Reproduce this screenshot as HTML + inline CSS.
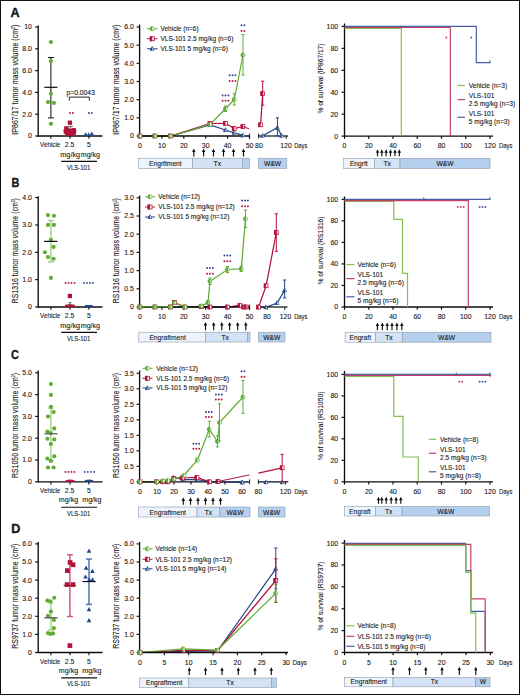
<!DOCTYPE html>
<html><head><meta charset="utf-8"><title>Figure</title>
<style>
html,body{margin:0;padding:0;background:#fff;}
body{width:520px;height:695px;overflow:hidden;}
svg{display:block;font-family:"Liberation Sans", sans-serif;}
text{stroke:#1a1a1a;stroke-width:0.1px;}
</style></head>
<body>
<svg width="520" height="695" viewBox="0 0 520 695">
<rect x="0" y="0" width="520" height="695" fill="#fff"/>
<rect x="138.4" y="158.2" width="53.9" height="10.2" fill="#eef4fb" stroke="#8e9cab" stroke-width="0.6"/>
<text x="165.35" y="165.9" font-size="6.7" text-anchor="middle" fill="#161616">Engrftment</text>
<rect x="192.3" y="158.2" width="50" height="10.2" fill="#d3e2f5" stroke="#8e9cab" stroke-width="0.6"/>
<text x="217.3" y="165.9" font-size="6.7" text-anchor="middle" fill="#161616">Tx</text>
<rect x="242.3" y="158.2" width="7.2" height="10.2" fill="#b5cfee" stroke="#8e9cab" stroke-width="0.6"/>
<rect x="258.5" y="158.2" width="28.3" height="10.2" fill="#b5cfee" stroke="#8e9cab" stroke-width="0.6"/>
<text x="272.65" y="165.9" font-size="6.7" text-anchor="middle" fill="#161616">W&amp;W</text>
<rect x="343.2" y="158.3" width="31.2" height="10.2" fill="#eef4fb" stroke="#8e9cab" stroke-width="0.6"/>
<text x="358.8" y="166" font-size="6.7" text-anchor="middle" fill="#161616">Engrft</text>
<rect x="374.4" y="158.3" width="25.6" height="10.2" fill="#d3e2f5" stroke="#8e9cab" stroke-width="0.6"/>
<text x="387.2" y="166" font-size="6.7" text-anchor="middle" fill="#161616">Tx</text>
<rect x="400" y="158.3" width="90" height="10.2" fill="#b5cfee" stroke="#8e9cab" stroke-width="0.6"/>
<text x="445" y="166" font-size="6.7" text-anchor="middle" fill="#161616">W&amp;W</text>
<rect x="138.8" y="332.2" width="66.8" height="9.8" fill="#eef4fb" stroke="#8e9cab" stroke-width="0.6"/>
<text x="167.6" y="339.5" font-size="6.7" text-anchor="middle" fill="#161616">Engraftment</text>
<rect x="205.6" y="332.2" width="41.9" height="9.8" fill="#d3e2f5" stroke="#8e9cab" stroke-width="0.6"/>
<text x="225.2" y="339.5" font-size="6.7" text-anchor="middle" fill="#161616">Tx</text>
<rect x="247.5" y="332.2" width="2.5" height="9.8" fill="#b5cfee" stroke="#8e9cab" stroke-width="0.6"/>
<rect x="258.5" y="332.2" width="26.5" height="9.8" fill="#b5cfee" stroke="#8e9cab" stroke-width="0.6"/>
<text x="271.75" y="339.5" font-size="6.7" text-anchor="middle" fill="#161616">W&amp;W</text>
<rect x="345.1" y="332.2" width="30.3" height="10" fill="#eef4fb" stroke="#8e9cab" stroke-width="0.6"/>
<text x="360.25" y="339.7" font-size="6.7" text-anchor="middle" fill="#161616">Engraft</text>
<rect x="375.4" y="332.2" width="26.9" height="10" fill="#d3e2f5" stroke="#8e9cab" stroke-width="0.6"/>
<text x="388.85" y="339.7" font-size="6.7" text-anchor="middle" fill="#161616">Tx</text>
<rect x="402.3" y="332.2" width="88.7" height="10" fill="#b5cfee" stroke="#8e9cab" stroke-width="0.6"/>
<text x="446.65" y="339.7" font-size="6.7" text-anchor="middle" fill="#161616">W&amp;W</text>
<rect x="138.5" y="507" width="58.5" height="10" fill="#eef4fb" stroke="#8e9cab" stroke-width="0.6"/>
<text x="167.75" y="514.5" font-size="6.7" text-anchor="middle" fill="#161616">Engraftment</text>
<rect x="197" y="507" width="23" height="10" fill="#d3e2f5" stroke="#8e9cab" stroke-width="0.6"/>
<text x="208.5" y="514.5" font-size="6.7" text-anchor="middle" fill="#161616">Tx</text>
<rect x="220" y="507" width="30" height="10" fill="#b5cfee" stroke="#8e9cab" stroke-width="0.6"/>
<text x="235" y="514.5" font-size="6.7" text-anchor="middle" fill="#161616">W&amp;W</text>
<rect x="258.3" y="507" width="26.7" height="10" fill="#b5cfee" stroke="#8e9cab" stroke-width="0.6"/>
<text x="271.65" y="514.5" font-size="6.7" text-anchor="middle" fill="#161616">W&amp;W</text>
<rect x="344.3" y="506.3" width="31.1" height="9.7" fill="#eef4fb" stroke="#8e9cab" stroke-width="0.6"/>
<text x="359.85" y="513.5" font-size="6.7" text-anchor="middle" fill="#161616">Engraft</text>
<rect x="375.5" y="506.3" width="26.5" height="9.7" fill="#d3e2f5" stroke="#8e9cab" stroke-width="0.6"/>
<text x="388.75" y="513.5" font-size="6.7" text-anchor="middle" fill="#161616">Tx</text>
<rect x="402" y="506.3" width="87.5" height="9.7" fill="#b5cfee" stroke="#8e9cab" stroke-width="0.6"/>
<text x="445.75" y="513.5" font-size="6.7" text-anchor="middle" fill="#161616">W&amp;W</text>
<rect x="139.5" y="678" width="49.3" height="9.5" fill="#eef4fb" stroke="#8e9cab" stroke-width="0.6"/>
<text x="164.15" y="685" font-size="6.7" text-anchor="middle" fill="#161616">Engraftment</text>
<rect x="188.8" y="678" width="82.5" height="9.5" fill="#d3e2f5" stroke="#8e9cab" stroke-width="0.6"/>
<text x="230.05" y="685" font-size="6.7" text-anchor="middle" fill="#161616">Tx</text>
<rect x="271.3" y="678" width="5" height="9.5" fill="#b5cfee" stroke="#8e9cab" stroke-width="0.6"/>
<rect x="344.5" y="677.5" width="48.5" height="9.3" fill="#eef4fb" stroke="#8e9cab" stroke-width="0.6"/>
<text x="368.75" y="684.3" font-size="6.7" text-anchor="middle" fill="#161616">Engraftment</text>
<rect x="393" y="677.5" width="82.8" height="9.3" fill="#d3e2f5" stroke="#8e9cab" stroke-width="0.6"/>
<text x="434.4" y="684.3" font-size="6.7" text-anchor="middle" fill="#161616">Tx</text>
<rect x="475.8" y="677.5" width="14.2" height="9.3" fill="#b5cfee" stroke="#8e9cab" stroke-width="0.6"/>
<text x="482.9" y="684.3" font-size="6.7" text-anchor="middle" fill="#161616">W</text>
<polyline points="140,136 155,136 170.5,136 210,125 225.5,130 234.25,132.8 243,135.4" fill="none" stroke="#23468a" stroke-width="1.25" stroke-linejoin="miter"/>
<polyline points="262.7,135.7 277.4,127.7 281.7,135.8" fill="none" stroke="#23468a" stroke-width="1.25" stroke-linejoin="miter"/>
<polyline points="140,136 155,136 170.5,136 210,123.5 225.5,123.3 234.25,128.5 243,126.5" fill="none" stroke="#b3123a" stroke-width="1.25" stroke-linejoin="miter"/>
<polyline points="260.6,124.8 262.7,93.6" fill="none" stroke="#b3123a" stroke-width="1.25" stroke-linejoin="miter"/>
<polyline points="140,136 155,136 170.5,136 210,124.5 225.5,108.75 234.25,99.5 243,55" fill="none" stroke="#60ad36" stroke-width="1.25" stroke-linejoin="miter"/>
<polyline points="140,307 155,307 170.5,307 185,307 201.3,307 210,307 227.5,307 240,306 246,307" fill="none" stroke="#23468a" stroke-width="1.25" stroke-linejoin="miter"/>
<polyline points="258.6,307 265.9,307.3 277.1,303 284.6,290.4" fill="none" stroke="#23468a" stroke-width="1.25" stroke-linejoin="miter"/>
<polyline points="140,307 155,307 170.5,307 174.5,302.5 185,307 201.3,306.5 210,307 227.5,307 240,305.5 243.7,307 246.3,307" fill="none" stroke="#b3123a" stroke-width="1.25" stroke-linejoin="miter"/>
<polyline points="258.6,307.1 266.1,285.8 276.3,232.5" fill="none" stroke="#b3123a" stroke-width="1.25" stroke-linejoin="miter"/>
<polyline points="140,307 155,307 170.5,307 174.5,302.8 185,307 201.3,306 208,302.5 210,281.3 227.5,269.5 241.3,268.8 245.5,218.8" fill="none" stroke="#60ad36" stroke-width="1.25" stroke-linejoin="miter"/>
<polyline points="140,481.8 156.8,481.8 163,481.8 168,481.8 173.5,477.5 183.5,479.5 197,479.5 209.5,481.8 218,481.8 242.2,482.3" fill="none" stroke="#23468a" stroke-width="1.25" stroke-linejoin="miter"/>
<polyline points="140,481.8 156.8,481.8 163,481.8 168,481.8 173.8,478.5 182.5,478 197,477.5 209.5,481.8 218,481.5" fill="none" stroke="#b3123a" stroke-width="1.25" stroke-linejoin="miter"/>
<polyline points="258.4,473.2 282.2,467.8" fill="none" stroke="#b3123a" stroke-width="1.25" stroke-linejoin="miter"/>
<polyline points="140,481.8 156.8,481.8 163,480.8 168,480.5 173.8,479.3 183.8,475.5 197.5,460 209.3,429.3 217.5,441.5 219.5,422.5 243,397" fill="none" stroke="#60ad36" stroke-width="1.25" stroke-linejoin="miter"/>
<polyline points="140,652.5 183.3,651.3 217.5,651 275.8,568.8" fill="none" stroke="#23468a" stroke-width="1.25" stroke-linejoin="miter"/>
<polyline points="140,652.5 183.3,650.3 217.5,650.5 275.8,580.5" fill="none" stroke="#b3123a" stroke-width="1.25" stroke-linejoin="miter"/>
<polyline points="140,652.5 183.3,648.8 217.5,650 275.8,593.3" fill="none" stroke="#60ad36" stroke-width="1.25" stroke-linejoin="miter"/>
<line x1="38.2" y1="25.5" x2="38.2" y2="136.5" stroke="#0d0d0d" stroke-width="1.35"/>
<line x1="35.2" y1="136" x2="38.2" y2="136" stroke="#0d0d0d" stroke-width="1.15"/>
<text x="31.9" y="138.46" font-size="6.9" text-anchor="end" fill="#161616">0</text>
<line x1="35.2" y1="114.2" x2="38.2" y2="114.2" stroke="#0d0d0d" stroke-width="1.15"/>
<text x="31.9" y="116.66" font-size="6.9" text-anchor="end" fill="#161616">2.0</text>
<line x1="35.2" y1="92.4" x2="38.2" y2="92.4" stroke="#0d0d0d" stroke-width="1.15"/>
<text x="31.9" y="94.86" font-size="6.9" text-anchor="end" fill="#161616">4.0</text>
<line x1="35.2" y1="70.6" x2="38.2" y2="70.6" stroke="#0d0d0d" stroke-width="1.15"/>
<text x="31.9" y="73.06" font-size="6.9" text-anchor="end" fill="#161616">6.0</text>
<line x1="35.2" y1="48.8" x2="38.2" y2="48.8" stroke="#0d0d0d" stroke-width="1.15"/>
<text x="31.9" y="51.26" font-size="6.9" text-anchor="end" fill="#161616">8.0</text>
<line x1="35.2" y1="27" x2="38.2" y2="27" stroke="#0d0d0d" stroke-width="1.15"/>
<text x="31.9" y="29.46" font-size="6.9" text-anchor="end" fill="#161616">10</text>
<line x1="37.6" y1="136" x2="102.5" y2="136" stroke="#0d0d0d" stroke-width="1.35"/>
<line x1="50.9" y1="136" x2="50.9" y2="138.8" stroke="#0d0d0d" stroke-width="1.1"/>
<line x1="70" y1="136" x2="70" y2="138.8" stroke="#0d0d0d" stroke-width="1.1"/>
<line x1="88.9" y1="136" x2="88.9" y2="138.8" stroke="#0d0d0d" stroke-width="1.1"/>
<line x1="139.6" y1="24.5" x2="139.6" y2="136.5" stroke="#0d0d0d" stroke-width="1.35"/>
<line x1="136.6" y1="136" x2="139.6" y2="136" stroke="#0d0d0d" stroke-width="1.15"/>
<text x="133.8" y="138.46" font-size="6.9" text-anchor="end" fill="#161616">0</text>
<line x1="136.6" y1="117.83" x2="139.6" y2="117.83" stroke="#0d0d0d" stroke-width="1.15"/>
<text x="133.8" y="120.29" font-size="6.9" text-anchor="end" fill="#161616">1.0</text>
<line x1="136.6" y1="99.66" x2="139.6" y2="99.66" stroke="#0d0d0d" stroke-width="1.15"/>
<text x="133.8" y="102.12" font-size="6.9" text-anchor="end" fill="#161616">2.0</text>
<line x1="136.6" y1="81.49" x2="139.6" y2="81.49" stroke="#0d0d0d" stroke-width="1.15"/>
<text x="133.8" y="83.95" font-size="6.9" text-anchor="end" fill="#161616">3.0</text>
<line x1="136.6" y1="63.32" x2="139.6" y2="63.32" stroke="#0d0d0d" stroke-width="1.15"/>
<text x="133.8" y="65.78" font-size="6.9" text-anchor="end" fill="#161616">4.0</text>
<line x1="136.6" y1="45.15" x2="139.6" y2="45.15" stroke="#0d0d0d" stroke-width="1.15"/>
<text x="133.8" y="47.61" font-size="6.9" text-anchor="end" fill="#161616">5.0</text>
<line x1="136.6" y1="26.98" x2="139.6" y2="26.98" stroke="#0d0d0d" stroke-width="1.15"/>
<text x="133.8" y="29.44" font-size="6.9" text-anchor="end" fill="#161616">6.0</text>
<line x1="139" y1="136" x2="249.6" y2="136" stroke="#0d0d0d" stroke-width="1.35"/>
<line x1="140" y1="136" x2="140" y2="138.8" stroke="#0d0d0d" stroke-width="1.15"/>
<text x="140" y="148.3" font-size="6.9" text-anchor="middle" fill="#161616">0</text>
<line x1="161.9" y1="136" x2="161.9" y2="138.8" stroke="#0d0d0d" stroke-width="1.15"/>
<text x="161.9" y="148.3" font-size="6.9" text-anchor="middle" fill="#161616">10</text>
<line x1="183.8" y1="136" x2="183.8" y2="138.8" stroke="#0d0d0d" stroke-width="1.15"/>
<text x="183.8" y="148.3" font-size="6.9" text-anchor="middle" fill="#161616">20</text>
<line x1="205.7" y1="136" x2="205.7" y2="138.8" stroke="#0d0d0d" stroke-width="1.15"/>
<text x="205.7" y="148.3" font-size="6.9" text-anchor="middle" fill="#161616">30</text>
<line x1="227.6" y1="136" x2="227.6" y2="138.8" stroke="#0d0d0d" stroke-width="1.15"/>
<text x="227.6" y="148.3" font-size="6.9" text-anchor="middle" fill="#161616">40</text>
<line x1="249.5" y1="136" x2="249.5" y2="138.8" stroke="#0d0d0d" stroke-width="1.15"/>
<text x="249.5" y="148.3" font-size="6.9" text-anchor="middle" fill="#161616">50</text>
<line x1="344.5" y1="23.5" x2="344.5" y2="136.6" stroke="#0d0d0d" stroke-width="1.35"/>
<line x1="341.5" y1="136.1" x2="344.5" y2="136.1" stroke="#0d0d0d" stroke-width="1.15"/>
<text x="338.1" y="138.56" font-size="6.9" text-anchor="end" fill="#161616">0</text>
<line x1="341.5" y1="114.16" x2="344.5" y2="114.16" stroke="#0d0d0d" stroke-width="1.15"/>
<text x="338.1" y="116.62" font-size="6.9" text-anchor="end" fill="#161616">20</text>
<line x1="341.5" y1="92.22" x2="344.5" y2="92.22" stroke="#0d0d0d" stroke-width="1.15"/>
<text x="338.1" y="94.68" font-size="6.9" text-anchor="end" fill="#161616">40</text>
<line x1="341.5" y1="70.28" x2="344.5" y2="70.28" stroke="#0d0d0d" stroke-width="1.15"/>
<text x="338.1" y="72.74" font-size="6.9" text-anchor="end" fill="#161616">60</text>
<line x1="341.5" y1="48.34" x2="344.5" y2="48.34" stroke="#0d0d0d" stroke-width="1.15"/>
<text x="338.1" y="50.8" font-size="6.9" text-anchor="end" fill="#161616">80</text>
<line x1="341.5" y1="26.4" x2="344.5" y2="26.4" stroke="#0d0d0d" stroke-width="1.15"/>
<text x="338.1" y="28.86" font-size="6.9" text-anchor="end" fill="#161616">100</text>
<line x1="343.9" y1="136.1" x2="493" y2="136.1" stroke="#0d0d0d" stroke-width="1.35"/>
<line x1="344.5" y1="136.1" x2="344.5" y2="138.9" stroke="#0d0d0d" stroke-width="1.15"/>
<text x="344.5" y="147.6" font-size="6.9" text-anchor="middle" fill="#161616">0</text>
<line x1="368.75" y1="136.1" x2="368.75" y2="138.9" stroke="#0d0d0d" stroke-width="1.15"/>
<text x="368.75" y="147.6" font-size="6.9" text-anchor="middle" fill="#161616">20</text>
<line x1="393" y1="136.1" x2="393" y2="138.9" stroke="#0d0d0d" stroke-width="1.15"/>
<text x="393" y="147.6" font-size="6.9" text-anchor="middle" fill="#161616">40</text>
<line x1="417.25" y1="136.1" x2="417.25" y2="138.9" stroke="#0d0d0d" stroke-width="1.15"/>
<text x="417.25" y="147.6" font-size="6.9" text-anchor="middle" fill="#161616">60</text>
<line x1="441.5" y1="136.1" x2="441.5" y2="138.9" stroke="#0d0d0d" stroke-width="1.15"/>
<text x="441.5" y="147.6" font-size="6.9" text-anchor="middle" fill="#161616">80</text>
<line x1="465.75" y1="136.1" x2="465.75" y2="138.9" stroke="#0d0d0d" stroke-width="1.15"/>
<text x="465.75" y="147.6" font-size="6.9" text-anchor="middle" fill="#161616">100</text>
<line x1="490" y1="136.1" x2="490" y2="138.9" stroke="#0d0d0d" stroke-width="1.15"/>
<text x="490" y="147.6" font-size="6.9" text-anchor="middle" fill="#161616">120</text>
<line x1="38.2" y1="196.3" x2="38.2" y2="307.5" stroke="#0d0d0d" stroke-width="1.35"/>
<line x1="35.2" y1="307" x2="38.2" y2="307" stroke="#0d0d0d" stroke-width="1.15"/>
<text x="31.9" y="309.46" font-size="6.9" text-anchor="end" fill="#161616">0</text>
<line x1="35.2" y1="279.65" x2="38.2" y2="279.65" stroke="#0d0d0d" stroke-width="1.15"/>
<text x="31.9" y="282.11" font-size="6.9" text-anchor="end" fill="#161616">1.0</text>
<line x1="35.2" y1="252.3" x2="38.2" y2="252.3" stroke="#0d0d0d" stroke-width="1.15"/>
<text x="31.9" y="254.76" font-size="6.9" text-anchor="end" fill="#161616">2.0</text>
<line x1="35.2" y1="224.95" x2="38.2" y2="224.95" stroke="#0d0d0d" stroke-width="1.15"/>
<text x="31.9" y="227.41" font-size="6.9" text-anchor="end" fill="#161616">3.0</text>
<line x1="35.2" y1="197.6" x2="38.2" y2="197.6" stroke="#0d0d0d" stroke-width="1.15"/>
<text x="31.9" y="200.06" font-size="6.9" text-anchor="end" fill="#161616">4.0</text>
<line x1="37.6" y1="307" x2="102.5" y2="307" stroke="#0d0d0d" stroke-width="1.35"/>
<line x1="50.9" y1="307" x2="50.9" y2="309.8" stroke="#0d0d0d" stroke-width="1.1"/>
<line x1="70" y1="307" x2="70" y2="309.8" stroke="#0d0d0d" stroke-width="1.1"/>
<line x1="88.9" y1="307" x2="88.9" y2="309.8" stroke="#0d0d0d" stroke-width="1.1"/>
<line x1="139.6" y1="195.5" x2="139.6" y2="307.5" stroke="#0d0d0d" stroke-width="1.35"/>
<line x1="136.6" y1="307" x2="139.6" y2="307" stroke="#0d0d0d" stroke-width="1.15"/>
<text x="133.8" y="309.46" font-size="6.9" text-anchor="end" fill="#161616">0</text>
<line x1="136.6" y1="288.8" x2="139.6" y2="288.8" stroke="#0d0d0d" stroke-width="1.15"/>
<text x="133.8" y="291.26" font-size="6.9" text-anchor="end" fill="#161616">0.5</text>
<line x1="136.6" y1="270.6" x2="139.6" y2="270.6" stroke="#0d0d0d" stroke-width="1.15"/>
<text x="133.8" y="273.06" font-size="6.9" text-anchor="end" fill="#161616">1.0</text>
<line x1="136.6" y1="252.4" x2="139.6" y2="252.4" stroke="#0d0d0d" stroke-width="1.15"/>
<text x="133.8" y="254.86" font-size="6.9" text-anchor="end" fill="#161616">1.5</text>
<line x1="136.6" y1="234.2" x2="139.6" y2="234.2" stroke="#0d0d0d" stroke-width="1.15"/>
<text x="133.8" y="236.66" font-size="6.9" text-anchor="end" fill="#161616">2.0</text>
<line x1="136.6" y1="216" x2="139.6" y2="216" stroke="#0d0d0d" stroke-width="1.15"/>
<text x="133.8" y="218.46" font-size="6.9" text-anchor="end" fill="#161616">2.5</text>
<line x1="136.6" y1="197.8" x2="139.6" y2="197.8" stroke="#0d0d0d" stroke-width="1.15"/>
<text x="133.8" y="200.26" font-size="6.9" text-anchor="end" fill="#161616">3.0</text>
<line x1="139" y1="307" x2="249.6" y2="307" stroke="#0d0d0d" stroke-width="1.35"/>
<line x1="140" y1="307" x2="140" y2="309.8" stroke="#0d0d0d" stroke-width="1.15"/>
<text x="140" y="319.3" font-size="6.9" text-anchor="middle" fill="#161616">0</text>
<line x1="161.9" y1="307" x2="161.9" y2="309.8" stroke="#0d0d0d" stroke-width="1.15"/>
<text x="161.9" y="319.3" font-size="6.9" text-anchor="middle" fill="#161616">10</text>
<line x1="183.8" y1="307" x2="183.8" y2="309.8" stroke="#0d0d0d" stroke-width="1.15"/>
<text x="183.8" y="319.3" font-size="6.9" text-anchor="middle" fill="#161616">20</text>
<line x1="205.7" y1="307" x2="205.7" y2="309.8" stroke="#0d0d0d" stroke-width="1.15"/>
<text x="205.7" y="319.3" font-size="6.9" text-anchor="middle" fill="#161616">30</text>
<line x1="227.6" y1="307" x2="227.6" y2="309.8" stroke="#0d0d0d" stroke-width="1.15"/>
<text x="227.6" y="319.3" font-size="6.9" text-anchor="middle" fill="#161616">40</text>
<line x1="249.5" y1="307" x2="249.5" y2="309.8" stroke="#0d0d0d" stroke-width="1.15"/>
<text x="249.5" y="319.3" font-size="6.9" text-anchor="middle" fill="#161616">50</text>
<line x1="344.5" y1="196.5" x2="344.5" y2="307.5" stroke="#0d0d0d" stroke-width="1.35"/>
<line x1="341.5" y1="307" x2="344.5" y2="307" stroke="#0d0d0d" stroke-width="1.15"/>
<text x="338.1" y="309.46" font-size="6.9" text-anchor="end" fill="#161616">0</text>
<line x1="341.5" y1="285.46" x2="344.5" y2="285.46" stroke="#0d0d0d" stroke-width="1.15"/>
<text x="338.1" y="287.92" font-size="6.9" text-anchor="end" fill="#161616">20</text>
<line x1="341.5" y1="263.92" x2="344.5" y2="263.92" stroke="#0d0d0d" stroke-width="1.15"/>
<text x="338.1" y="266.38" font-size="6.9" text-anchor="end" fill="#161616">40</text>
<line x1="341.5" y1="242.38" x2="344.5" y2="242.38" stroke="#0d0d0d" stroke-width="1.15"/>
<text x="338.1" y="244.84" font-size="6.9" text-anchor="end" fill="#161616">60</text>
<line x1="341.5" y1="220.84" x2="344.5" y2="220.84" stroke="#0d0d0d" stroke-width="1.15"/>
<text x="338.1" y="223.3" font-size="6.9" text-anchor="end" fill="#161616">80</text>
<line x1="341.5" y1="199.3" x2="344.5" y2="199.3" stroke="#0d0d0d" stroke-width="1.15"/>
<text x="338.1" y="201.76" font-size="6.9" text-anchor="end" fill="#161616">100</text>
<line x1="343.9" y1="307" x2="493" y2="307" stroke="#0d0d0d" stroke-width="1.35"/>
<line x1="344.5" y1="307" x2="344.5" y2="309.8" stroke="#0d0d0d" stroke-width="1.15"/>
<text x="344.5" y="319" font-size="6.9" text-anchor="middle" fill="#161616">0</text>
<line x1="368.75" y1="307" x2="368.75" y2="309.8" stroke="#0d0d0d" stroke-width="1.15"/>
<text x="368.75" y="319" font-size="6.9" text-anchor="middle" fill="#161616">20</text>
<line x1="393" y1="307" x2="393" y2="309.8" stroke="#0d0d0d" stroke-width="1.15"/>
<text x="393" y="319" font-size="6.9" text-anchor="middle" fill="#161616">40</text>
<line x1="417.25" y1="307" x2="417.25" y2="309.8" stroke="#0d0d0d" stroke-width="1.15"/>
<text x="417.25" y="319" font-size="6.9" text-anchor="middle" fill="#161616">60</text>
<line x1="441.5" y1="307" x2="441.5" y2="309.8" stroke="#0d0d0d" stroke-width="1.15"/>
<text x="441.5" y="319" font-size="6.9" text-anchor="middle" fill="#161616">80</text>
<line x1="465.75" y1="307" x2="465.75" y2="309.8" stroke="#0d0d0d" stroke-width="1.15"/>
<text x="465.75" y="319" font-size="6.9" text-anchor="middle" fill="#161616">100</text>
<line x1="490" y1="307" x2="490" y2="309.8" stroke="#0d0d0d" stroke-width="1.15"/>
<text x="490" y="319" font-size="6.9" text-anchor="middle" fill="#161616">120</text>
<line x1="38.2" y1="370.5" x2="38.2" y2="482.3" stroke="#0d0d0d" stroke-width="1.35"/>
<line x1="35.2" y1="481.8" x2="38.2" y2="481.8" stroke="#0d0d0d" stroke-width="1.15"/>
<text x="31.9" y="484.26" font-size="6.9" text-anchor="end" fill="#161616">0</text>
<line x1="35.2" y1="460" x2="38.2" y2="460" stroke="#0d0d0d" stroke-width="1.15"/>
<text x="31.9" y="462.46" font-size="6.9" text-anchor="end" fill="#161616">1.0</text>
<line x1="35.2" y1="438.2" x2="38.2" y2="438.2" stroke="#0d0d0d" stroke-width="1.15"/>
<text x="31.9" y="440.66" font-size="6.9" text-anchor="end" fill="#161616">2.0</text>
<line x1="35.2" y1="416.4" x2="38.2" y2="416.4" stroke="#0d0d0d" stroke-width="1.15"/>
<text x="31.9" y="418.86" font-size="6.9" text-anchor="end" fill="#161616">3.0</text>
<line x1="35.2" y1="394.6" x2="38.2" y2="394.6" stroke="#0d0d0d" stroke-width="1.15"/>
<text x="31.9" y="397.06" font-size="6.9" text-anchor="end" fill="#161616">4.0</text>
<line x1="35.2" y1="372.8" x2="38.2" y2="372.8" stroke="#0d0d0d" stroke-width="1.15"/>
<text x="31.9" y="375.26" font-size="6.9" text-anchor="end" fill="#161616">5.0</text>
<line x1="37.6" y1="481.8" x2="102.5" y2="481.8" stroke="#0d0d0d" stroke-width="1.35"/>
<line x1="50.9" y1="481.8" x2="50.9" y2="484.6" stroke="#0d0d0d" stroke-width="1.1"/>
<line x1="70" y1="481.8" x2="70" y2="484.6" stroke="#0d0d0d" stroke-width="1.1"/>
<line x1="88.9" y1="481.8" x2="88.9" y2="484.6" stroke="#0d0d0d" stroke-width="1.1"/>
<line x1="139.6" y1="370.5" x2="139.6" y2="482.3" stroke="#0d0d0d" stroke-width="1.35"/>
<line x1="136.6" y1="481.8" x2="139.6" y2="481.8" stroke="#0d0d0d" stroke-width="1.15"/>
<text x="133.8" y="484.26" font-size="6.9" text-anchor="end" fill="#161616">0</text>
<line x1="136.6" y1="466.3" x2="139.6" y2="466.3" stroke="#0d0d0d" stroke-width="1.15"/>
<text x="133.8" y="468.76" font-size="6.9" text-anchor="end" fill="#161616">0.5</text>
<line x1="136.6" y1="450.8" x2="139.6" y2="450.8" stroke="#0d0d0d" stroke-width="1.15"/>
<text x="133.8" y="453.26" font-size="6.9" text-anchor="end" fill="#161616">1.0</text>
<line x1="136.6" y1="435.3" x2="139.6" y2="435.3" stroke="#0d0d0d" stroke-width="1.15"/>
<text x="133.8" y="437.76" font-size="6.9" text-anchor="end" fill="#161616">1.5</text>
<line x1="136.6" y1="419.8" x2="139.6" y2="419.8" stroke="#0d0d0d" stroke-width="1.15"/>
<text x="133.8" y="422.26" font-size="6.9" text-anchor="end" fill="#161616">2.0</text>
<line x1="136.6" y1="404.3" x2="139.6" y2="404.3" stroke="#0d0d0d" stroke-width="1.15"/>
<text x="133.8" y="406.76" font-size="6.9" text-anchor="end" fill="#161616">2.5</text>
<line x1="136.6" y1="388.8" x2="139.6" y2="388.8" stroke="#0d0d0d" stroke-width="1.15"/>
<text x="133.8" y="391.26" font-size="6.9" text-anchor="end" fill="#161616">3.0</text>
<line x1="136.6" y1="373.3" x2="139.6" y2="373.3" stroke="#0d0d0d" stroke-width="1.15"/>
<text x="133.8" y="375.76" font-size="6.9" text-anchor="end" fill="#161616">3.5</text>
<line x1="139" y1="481.8" x2="249.6" y2="481.8" stroke="#0d0d0d" stroke-width="1.35"/>
<line x1="140" y1="481.8" x2="140" y2="484.6" stroke="#0d0d0d" stroke-width="1.15"/>
<text x="140" y="494.1" font-size="6.9" text-anchor="middle" fill="#161616">0</text>
<line x1="157" y1="481.8" x2="157" y2="484.6" stroke="#0d0d0d" stroke-width="1.15"/>
<text x="157" y="494.1" font-size="6.9" text-anchor="middle" fill="#161616">10</text>
<line x1="174" y1="481.8" x2="174" y2="484.6" stroke="#0d0d0d" stroke-width="1.15"/>
<text x="174" y="494.1" font-size="6.9" text-anchor="middle" fill="#161616">20</text>
<line x1="191" y1="481.8" x2="191" y2="484.6" stroke="#0d0d0d" stroke-width="1.15"/>
<text x="191" y="494.1" font-size="6.9" text-anchor="middle" fill="#161616">30</text>
<line x1="208" y1="481.8" x2="208" y2="484.6" stroke="#0d0d0d" stroke-width="1.15"/>
<text x="208" y="494.1" font-size="6.9" text-anchor="middle" fill="#161616">40</text>
<line x1="225" y1="481.8" x2="225" y2="484.6" stroke="#0d0d0d" stroke-width="1.15"/>
<text x="225" y="494.1" font-size="6.9" text-anchor="middle" fill="#161616">50</text>
<line x1="242" y1="481.8" x2="242" y2="484.6" stroke="#0d0d0d" stroke-width="1.15"/>
<text x="242" y="494.1" font-size="6.9" text-anchor="middle" fill="#161616">60</text>
<line x1="344.5" y1="371" x2="344.5" y2="482.3" stroke="#0d0d0d" stroke-width="1.35"/>
<line x1="341.5" y1="481.8" x2="344.5" y2="481.8" stroke="#0d0d0d" stroke-width="1.15"/>
<text x="338.1" y="484.26" font-size="6.9" text-anchor="end" fill="#161616">0</text>
<line x1="341.5" y1="460.32" x2="344.5" y2="460.32" stroke="#0d0d0d" stroke-width="1.15"/>
<text x="338.1" y="462.78" font-size="6.9" text-anchor="end" fill="#161616">20</text>
<line x1="341.5" y1="438.84" x2="344.5" y2="438.84" stroke="#0d0d0d" stroke-width="1.15"/>
<text x="338.1" y="441.3" font-size="6.9" text-anchor="end" fill="#161616">40</text>
<line x1="341.5" y1="417.36" x2="344.5" y2="417.36" stroke="#0d0d0d" stroke-width="1.15"/>
<text x="338.1" y="419.82" font-size="6.9" text-anchor="end" fill="#161616">60</text>
<line x1="341.5" y1="395.88" x2="344.5" y2="395.88" stroke="#0d0d0d" stroke-width="1.15"/>
<text x="338.1" y="398.34" font-size="6.9" text-anchor="end" fill="#161616">80</text>
<line x1="341.5" y1="374.4" x2="344.5" y2="374.4" stroke="#0d0d0d" stroke-width="1.15"/>
<text x="338.1" y="376.86" font-size="6.9" text-anchor="end" fill="#161616">100</text>
<line x1="343.9" y1="481.8" x2="493" y2="481.8" stroke="#0d0d0d" stroke-width="1.35"/>
<line x1="344.5" y1="481.8" x2="344.5" y2="484.6" stroke="#0d0d0d" stroke-width="1.15"/>
<text x="344.5" y="493.8" font-size="6.9" text-anchor="middle" fill="#161616">0</text>
<line x1="368.75" y1="481.8" x2="368.75" y2="484.6" stroke="#0d0d0d" stroke-width="1.15"/>
<text x="368.75" y="493.8" font-size="6.9" text-anchor="middle" fill="#161616">20</text>
<line x1="393" y1="481.8" x2="393" y2="484.6" stroke="#0d0d0d" stroke-width="1.15"/>
<text x="393" y="493.8" font-size="6.9" text-anchor="middle" fill="#161616">40</text>
<line x1="417.25" y1="481.8" x2="417.25" y2="484.6" stroke="#0d0d0d" stroke-width="1.15"/>
<text x="417.25" y="493.8" font-size="6.9" text-anchor="middle" fill="#161616">60</text>
<line x1="441.5" y1="481.8" x2="441.5" y2="484.6" stroke="#0d0d0d" stroke-width="1.15"/>
<text x="441.5" y="493.8" font-size="6.9" text-anchor="middle" fill="#161616">80</text>
<line x1="465.75" y1="481.8" x2="465.75" y2="484.6" stroke="#0d0d0d" stroke-width="1.15"/>
<text x="465.75" y="493.8" font-size="6.9" text-anchor="middle" fill="#161616">100</text>
<line x1="490" y1="481.8" x2="490" y2="484.6" stroke="#0d0d0d" stroke-width="1.15"/>
<text x="490" y="493.8" font-size="6.9" text-anchor="middle" fill="#161616">120</text>
<line x1="38.2" y1="542" x2="38.2" y2="653" stroke="#0d0d0d" stroke-width="1.35"/>
<line x1="35.2" y1="652.5" x2="38.2" y2="652.5" stroke="#0d0d0d" stroke-width="1.15"/>
<text x="31.9" y="654.96" font-size="6.9" text-anchor="end" fill="#161616">0</text>
<line x1="35.2" y1="634.4" x2="38.2" y2="634.4" stroke="#0d0d0d" stroke-width="1.15"/>
<text x="31.9" y="636.86" font-size="6.9" text-anchor="end" fill="#161616">1.0</text>
<line x1="35.2" y1="616.3" x2="38.2" y2="616.3" stroke="#0d0d0d" stroke-width="1.15"/>
<text x="31.9" y="618.76" font-size="6.9" text-anchor="end" fill="#161616">2.0</text>
<line x1="35.2" y1="598.2" x2="38.2" y2="598.2" stroke="#0d0d0d" stroke-width="1.15"/>
<text x="31.9" y="600.66" font-size="6.9" text-anchor="end" fill="#161616">3.0</text>
<line x1="35.2" y1="580.1" x2="38.2" y2="580.1" stroke="#0d0d0d" stroke-width="1.15"/>
<text x="31.9" y="582.56" font-size="6.9" text-anchor="end" fill="#161616">4.0</text>
<line x1="35.2" y1="562" x2="38.2" y2="562" stroke="#0d0d0d" stroke-width="1.15"/>
<text x="31.9" y="564.46" font-size="6.9" text-anchor="end" fill="#161616">5.0</text>
<line x1="35.2" y1="543.9" x2="38.2" y2="543.9" stroke="#0d0d0d" stroke-width="1.15"/>
<text x="31.9" y="546.36" font-size="6.9" text-anchor="end" fill="#161616">6.0</text>
<line x1="37.6" y1="652.5" x2="102.5" y2="652.5" stroke="#0d0d0d" stroke-width="1.35"/>
<line x1="50.9" y1="652.5" x2="50.9" y2="655.3" stroke="#0d0d0d" stroke-width="1.1"/>
<line x1="70" y1="652.5" x2="70" y2="655.3" stroke="#0d0d0d" stroke-width="1.1"/>
<line x1="88.9" y1="652.5" x2="88.9" y2="655.3" stroke="#0d0d0d" stroke-width="1.1"/>
<line x1="139.6" y1="542" x2="139.6" y2="653" stroke="#0d0d0d" stroke-width="1.35"/>
<line x1="136.6" y1="652.5" x2="139.6" y2="652.5" stroke="#0d0d0d" stroke-width="1.15"/>
<text x="133.8" y="654.96" font-size="6.9" text-anchor="end" fill="#161616">0</text>
<line x1="136.6" y1="634.4" x2="139.6" y2="634.4" stroke="#0d0d0d" stroke-width="1.15"/>
<text x="133.8" y="636.86" font-size="6.9" text-anchor="end" fill="#161616">1.0</text>
<line x1="136.6" y1="616.3" x2="139.6" y2="616.3" stroke="#0d0d0d" stroke-width="1.15"/>
<text x="133.8" y="618.76" font-size="6.9" text-anchor="end" fill="#161616">2.0</text>
<line x1="136.6" y1="598.2" x2="139.6" y2="598.2" stroke="#0d0d0d" stroke-width="1.15"/>
<text x="133.8" y="600.66" font-size="6.9" text-anchor="end" fill="#161616">3.0</text>
<line x1="136.6" y1="580.1" x2="139.6" y2="580.1" stroke="#0d0d0d" stroke-width="1.15"/>
<text x="133.8" y="582.56" font-size="6.9" text-anchor="end" fill="#161616">4.0</text>
<line x1="136.6" y1="562" x2="139.6" y2="562" stroke="#0d0d0d" stroke-width="1.15"/>
<text x="133.8" y="564.46" font-size="6.9" text-anchor="end" fill="#161616">5.0</text>
<line x1="136.6" y1="543.9" x2="139.6" y2="543.9" stroke="#0d0d0d" stroke-width="1.15"/>
<text x="133.8" y="546.36" font-size="6.9" text-anchor="end" fill="#161616">6.0</text>
<line x1="139" y1="652.5" x2="288" y2="652.5" stroke="#0d0d0d" stroke-width="1.35"/>
<line x1="140" y1="652.5" x2="140" y2="655.3" stroke="#0d0d0d" stroke-width="1.15"/>
<text x="140" y="664.8" font-size="6.9" text-anchor="middle" fill="#161616">0</text>
<line x1="164.35" y1="652.5" x2="164.35" y2="655.3" stroke="#0d0d0d" stroke-width="1.15"/>
<text x="164.35" y="664.8" font-size="6.9" text-anchor="middle" fill="#161616">5</text>
<line x1="188.7" y1="652.5" x2="188.7" y2="655.3" stroke="#0d0d0d" stroke-width="1.15"/>
<text x="188.7" y="664.8" font-size="6.9" text-anchor="middle" fill="#161616">10</text>
<line x1="213.05" y1="652.5" x2="213.05" y2="655.3" stroke="#0d0d0d" stroke-width="1.15"/>
<text x="213.05" y="664.8" font-size="6.9" text-anchor="middle" fill="#161616">15</text>
<line x1="237.4" y1="652.5" x2="237.4" y2="655.3" stroke="#0d0d0d" stroke-width="1.15"/>
<text x="237.4" y="664.8" font-size="6.9" text-anchor="middle" fill="#161616">20</text>
<line x1="261.75" y1="652.5" x2="261.75" y2="655.3" stroke="#0d0d0d" stroke-width="1.15"/>
<text x="261.75" y="664.8" font-size="6.9" text-anchor="middle" fill="#161616">25</text>
<line x1="286.1" y1="652.5" x2="286.1" y2="655.3" stroke="#0d0d0d" stroke-width="1.15"/>
<text x="286.1" y="664.8" font-size="6.9" text-anchor="middle" fill="#161616">30</text>
<line x1="344.5" y1="540" x2="344.5" y2="653" stroke="#0d0d0d" stroke-width="1.35"/>
<line x1="341.5" y1="652.5" x2="344.5" y2="652.5" stroke="#0d0d0d" stroke-width="1.15"/>
<text x="338.1" y="654.96" font-size="6.9" text-anchor="end" fill="#161616">0</text>
<line x1="341.5" y1="630.62" x2="344.5" y2="630.62" stroke="#0d0d0d" stroke-width="1.15"/>
<text x="338.1" y="633.08" font-size="6.9" text-anchor="end" fill="#161616">20</text>
<line x1="341.5" y1="608.74" x2="344.5" y2="608.74" stroke="#0d0d0d" stroke-width="1.15"/>
<text x="338.1" y="611.2" font-size="6.9" text-anchor="end" fill="#161616">40</text>
<line x1="341.5" y1="586.86" x2="344.5" y2="586.86" stroke="#0d0d0d" stroke-width="1.15"/>
<text x="338.1" y="589.32" font-size="6.9" text-anchor="end" fill="#161616">60</text>
<line x1="341.5" y1="564.98" x2="344.5" y2="564.98" stroke="#0d0d0d" stroke-width="1.15"/>
<text x="338.1" y="567.44" font-size="6.9" text-anchor="end" fill="#161616">80</text>
<line x1="341.5" y1="543.1" x2="344.5" y2="543.1" stroke="#0d0d0d" stroke-width="1.15"/>
<text x="338.1" y="545.56" font-size="6.9" text-anchor="end" fill="#161616">100</text>
<line x1="343.9" y1="652.5" x2="493" y2="652.5" stroke="#0d0d0d" stroke-width="1.35"/>
<line x1="344.5" y1="652.5" x2="344.5" y2="655.3" stroke="#0d0d0d" stroke-width="1.15"/>
<text x="344.5" y="664.5" font-size="6.9" text-anchor="middle" fill="#161616">0</text>
<line x1="368.8" y1="652.5" x2="368.8" y2="655.3" stroke="#0d0d0d" stroke-width="1.15"/>
<text x="368.8" y="664.5" font-size="6.9" text-anchor="middle" fill="#161616">5</text>
<line x1="393.1" y1="652.5" x2="393.1" y2="655.3" stroke="#0d0d0d" stroke-width="1.15"/>
<text x="393.1" y="664.5" font-size="6.9" text-anchor="middle" fill="#161616">10</text>
<line x1="417.4" y1="652.5" x2="417.4" y2="655.3" stroke="#0d0d0d" stroke-width="1.15"/>
<text x="417.4" y="664.5" font-size="6.9" text-anchor="middle" fill="#161616">15</text>
<line x1="441.7" y1="652.5" x2="441.7" y2="655.3" stroke="#0d0d0d" stroke-width="1.15"/>
<text x="441.7" y="664.5" font-size="6.9" text-anchor="middle" fill="#161616">20</text>
<line x1="466" y1="652.5" x2="466" y2="655.3" stroke="#0d0d0d" stroke-width="1.15"/>
<text x="466" y="664.5" font-size="6.9" text-anchor="middle" fill="#161616">25</text>
<line x1="490.3" y1="652.5" x2="490.3" y2="655.3" stroke="#0d0d0d" stroke-width="1.15"/>
<text x="490.3" y="664.5" font-size="6.9" text-anchor="middle" fill="#161616">30</text>
<text x="10.4" y="16.9" font-size="12.6" font-weight="bold" fill="#161616" style="stroke-width:0.35px">A</text>
<text x="50.2" y="147.2" font-size="6.7" text-anchor="middle" textLength="20.3" lengthAdjust="spacingAndGlyphs" fill="#161616">Vehicle</text>
<text x="69.5" y="147.2" font-size="6.9" text-anchor="middle" fill="#161616">2.5</text>
<text x="89" y="147.2" font-size="6.9" text-anchor="middle" fill="#161616">5</text>
<text x="70.2" y="156.5" font-size="6.7" text-anchor="middle" textLength="19.7" lengthAdjust="spacingAndGlyphs" fill="#161616">mg/kg</text>
<text x="90.4" y="156.5" font-size="6.7" text-anchor="middle" textLength="19.3" lengthAdjust="spacingAndGlyphs" fill="#161616">mg/kg</text>
<line x1="61.2" y1="161.4" x2="97" y2="161.4" stroke="#0d0d0d" stroke-width="1.1"/>
<text x="78.6" y="169.7" font-size="6.7" text-anchor="middle" textLength="23.4" lengthAdjust="spacingAndGlyphs" fill="#161616">VLS-101</text>
<text x="0" y="0" font-size="9.6" text-anchor="middle" textLength="110" lengthAdjust="spacingAndGlyphs" fill="#161616" transform="translate(17.6 79.7) rotate(-90)">IP867/17 tumor mass volume (cm<tspan font-size="4.5" dy="-2.5">3</tspan><tspan dy="2.5">)</tspan></text>
<line x1="50.9" y1="57.5" x2="50.9" y2="117.9" stroke="#0d0d0d" stroke-width="1"/>
<line x1="47.9" y1="57.5" x2="53.9" y2="57.5" stroke="#0d0d0d" stroke-width="1"/>
<line x1="47.9" y1="117.9" x2="53.9" y2="117.9" stroke="#0d0d0d" stroke-width="1"/>
<line x1="44.3" y1="87.3" x2="57.5" y2="87.3" stroke="#0d0d0d" stroke-width="1.2"/>
<circle cx="50.9" cy="42" r="2.1" fill="#60ad36" stroke="none" stroke-width="0.8"/>
<circle cx="50.9" cy="61" r="2.1" fill="#60ad36" stroke="none" stroke-width="0.8"/>
<circle cx="50.9" cy="93.8" r="2.1" fill="#60ad36" stroke="none" stroke-width="0.8"/>
<circle cx="48" cy="102.1" r="2.1" fill="#60ad36" stroke="none" stroke-width="0.8"/>
<circle cx="53.9" cy="102.9" r="2.1" fill="#60ad36" stroke="none" stroke-width="0.8"/>
<circle cx="50.9" cy="123.8" r="2.1" fill="#60ad36" stroke="none" stroke-width="0.8"/>
<line x1="63.4" y1="130.4" x2="76.5" y2="130.4" stroke="#555" stroke-width="0.9"/>
<rect x="67.75" y="120.55" width="4.3" height="4.3" fill="#b3123a" stroke="none" stroke-width="0.6"/>
<rect x="64.15" y="126.25" width="4.3" height="4.3" fill="#b3123a" stroke="none" stroke-width="0.6"/>
<rect x="71.65" y="128.05" width="4.3" height="4.3" fill="#b3123a" stroke="none" stroke-width="0.6"/>
<rect x="63.65" y="129.45" width="4.3" height="4.3" fill="#b3123a" stroke="none" stroke-width="0.6"/>
<rect x="66.45" y="128.35" width="4.3" height="4.3" fill="#b3123a" stroke="none" stroke-width="0.6"/>
<rect x="69.25" y="129.05" width="4.3" height="4.3" fill="#b3123a" stroke="none" stroke-width="0.6"/>
<rect x="71.85" y="130.15" width="4.3" height="4.3" fill="#b3123a" stroke="none" stroke-width="0.6"/>
<rect x="65.05" y="131.15" width="4.3" height="4.3" fill="#b3123a" stroke="none" stroke-width="0.6"/>
<rect x="68.05" y="131.45" width="4.3" height="4.3" fill="#b3123a" stroke="none" stroke-width="0.6"/>
<rect x="70.65" y="131.25" width="4.3" height="4.3" fill="#b3123a" stroke="none" stroke-width="0.6"/>
<line x1="68" y1="126.4" x2="73" y2="126.4" stroke="#666" stroke-width="1"/>
<line x1="70.5" y1="126.4" x2="70.5" y2="129" stroke="#777" stroke-width="1.3"/>
<polygon points="85.6,132.24 87.6,135.84 83.6,135.84" fill="#23468a" stroke="none" stroke-width="0.8"/>
<polygon points="88.6,132.44 90.6,136.04 86.6,136.04" fill="#23468a" stroke="none" stroke-width="0.8"/>
<polygon points="91.8,131.44 93.8,135.04 89.8,135.04" fill="#23468a" stroke="none" stroke-width="0.8"/>
<line x1="83.5" y1="135.4" x2="93.5" y2="135.4" stroke="#23468a" stroke-width="0.8"/>
<text x="80.7" y="94.8" font-size="6.5" text-anchor="middle" textLength="28.4" lengthAdjust="spacingAndGlyphs" fill="#161616">p=0.0043</text>
<polyline points="69.3,100.6 69.3,97.1 89.3,97.1 89.3,100.6" fill="none" stroke="#0d0d0d" stroke-width="0.9" stroke-linejoin="miter"/>
<circle cx="69.95" cy="113" r="0.95" fill="#b3123a" stroke="none" stroke-width="0.8"/>
<circle cx="72.85" cy="113" r="0.95" fill="#b3123a" stroke="none" stroke-width="0.8"/>
<circle cx="88.85" cy="113" r="0.95" fill="#23468a" stroke="none" stroke-width="0.8"/>
<circle cx="91.75" cy="113" r="0.95" fill="#23468a" stroke="none" stroke-width="0.8"/>
<line x1="249.6" y1="133.6" x2="249.6" y2="138.4" stroke="#0d0d0d" stroke-width="0.9"/>
<line x1="258.6" y1="136" x2="288" y2="136" stroke="#0d0d0d" stroke-width="1.2"/>
<line x1="258.6" y1="133.6" x2="258.6" y2="138.4" stroke="#0d0d0d" stroke-width="0.9"/>
<line x1="286.2" y1="136" x2="286.2" y2="138.8" stroke="#0d0d0d" stroke-width="0.9"/>
<text x="258.9" y="148.3" font-size="6.9" text-anchor="middle" fill="#161616">80</text>
<text x="286" y="148.3" font-size="6.9" text-anchor="middle" fill="#161616">120</text>
<text x="294.2" y="148.3" font-size="6.9" textLength="13.1" lengthAdjust="spacingAndGlyphs" fill="#161616">Days</text>
<text x="0" y="0" font-size="9.6" text-anchor="middle" textLength="110" lengthAdjust="spacingAndGlyphs" fill="#161616" transform="translate(119 79.7) rotate(-90)">IP867/17 tumor mass volume (cm<tspan font-size="4.5" dy="-2.5">3</tspan><tspan dy="2.5">)</tspan></text>
<polygon points="140,133.84 142,137.44 138,137.44" fill="#fff" stroke="#23468a" stroke-width="0.7"/>
<polygon points="140,133.54 140,137.74 137.6,137.74" fill="#23468a"/>
<polygon points="155,133.84 157,137.44 153,137.44" fill="#fff" stroke="#23468a" stroke-width="0.7"/>
<polygon points="155,133.54 155,137.74 152.6,137.74" fill="#23468a"/>
<polygon points="170.5,133.84 172.5,137.44 168.5,137.44" fill="#fff" stroke="#23468a" stroke-width="0.7"/>
<polygon points="170.5,133.54 170.5,137.74 168.1,137.74" fill="#23468a"/>
<polygon points="210,122.84 212,126.44 208,126.44" fill="#fff" stroke="#23468a" stroke-width="0.7"/>
<polygon points="210,122.54 210,126.74 207.6,126.74" fill="#23468a"/>
<polygon points="225.5,127.84 227.5,131.44 223.5,131.44" fill="#fff" stroke="#23468a" stroke-width="0.7"/>
<polygon points="225.5,127.54 225.5,131.74 223.1,131.74" fill="#23468a"/>
<polygon points="234.25,130.64 236.25,134.24 232.25,134.24" fill="#fff" stroke="#23468a" stroke-width="0.7"/>
<polygon points="234.25,130.34 234.25,134.54 231.85,134.54" fill="#23468a"/>
<polygon points="243,133.24 245,136.84 241,136.84" fill="#fff" stroke="#23468a" stroke-width="0.7"/>
<polygon points="243,132.94 243,137.14 240.6,137.14" fill="#23468a"/>
<polygon points="262.7,133.54 264.7,137.14 260.7,137.14" fill="#fff" stroke="#23468a" stroke-width="0.7"/>
<polygon points="262.7,133.24 262.7,137.44 260.3,137.44" fill="#23468a"/>
<polygon points="277.4,125.54 279.4,129.14 275.4,129.14" fill="#fff" stroke="#23468a" stroke-width="0.7"/>
<polygon points="277.4,125.24 277.4,129.44 275,129.44" fill="#23468a"/>
<polygon points="281.7,133.64 283.7,137.24 279.7,137.24" fill="#fff" stroke="#23468a" stroke-width="0.7"/>
<polygon points="281.7,133.34 281.7,137.54 279.3,137.54" fill="#23468a"/>
<line x1="277.4" y1="117.9" x2="277.4" y2="135.7" stroke="#23468a" stroke-width="1"/>
<line x1="275.8" y1="117.9" x2="279" y2="117.9" stroke="#23468a" stroke-width="1"/>
<line x1="275.8" y1="135.7" x2="279" y2="135.7" stroke="#23468a" stroke-width="1"/>
<rect x="138.1" y="134.1" width="3.8" height="3.8" fill="#fff" stroke="#b3123a" stroke-width="0.8"/>
<rect x="137.7" y="133.7" width="2.3" height="4.6" fill="#b3123a" stroke="none" stroke-width="0.6"/>
<rect x="153.1" y="134.1" width="3.8" height="3.8" fill="#fff" stroke="#b3123a" stroke-width="0.8"/>
<rect x="152.7" y="133.7" width="2.3" height="4.6" fill="#b3123a" stroke="none" stroke-width="0.6"/>
<rect x="168.6" y="134.1" width="3.8" height="3.8" fill="#fff" stroke="#b3123a" stroke-width="0.8"/>
<rect x="168.2" y="133.7" width="2.3" height="4.6" fill="#b3123a" stroke="none" stroke-width="0.6"/>
<rect x="208.1" y="121.6" width="3.8" height="3.8" fill="#fff" stroke="#b3123a" stroke-width="0.8"/>
<rect x="207.7" y="121.2" width="2.3" height="4.6" fill="#b3123a" stroke="none" stroke-width="0.6"/>
<rect x="223.6" y="121.4" width="3.8" height="3.8" fill="#fff" stroke="#b3123a" stroke-width="0.8"/>
<rect x="223.2" y="121" width="2.3" height="4.6" fill="#b3123a" stroke="none" stroke-width="0.6"/>
<rect x="232.35" y="126.6" width="3.8" height="3.8" fill="#fff" stroke="#b3123a" stroke-width="0.8"/>
<rect x="231.95" y="126.2" width="2.3" height="4.6" fill="#b3123a" stroke="none" stroke-width="0.6"/>
<rect x="241.1" y="124.6" width="3.8" height="3.8" fill="#fff" stroke="#b3123a" stroke-width="0.8"/>
<rect x="240.7" y="124.2" width="2.3" height="4.6" fill="#b3123a" stroke="none" stroke-width="0.6"/>
<polyline points="243,126.5 249.4,129" fill="none" stroke="#b3123a" stroke-width="1" stroke-linejoin="miter"/>
<rect x="258.7" y="122.9" width="3.8" height="3.8" fill="#fff" stroke="#b3123a" stroke-width="0.8"/>
<rect x="258.3" y="122.5" width="2.3" height="4.6" fill="#b3123a" stroke="none" stroke-width="0.6"/>
<rect x="260.8" y="91.7" width="3.8" height="3.8" fill="#fff" stroke="#b3123a" stroke-width="0.8"/>
<rect x="260.4" y="91.3" width="2.3" height="4.6" fill="#b3123a" stroke="none" stroke-width="0.6"/>
<line x1="262.7" y1="81.2" x2="262.7" y2="105.2" stroke="#b3123a" stroke-width="1"/>
<line x1="261.1" y1="81.2" x2="264.3" y2="81.2" stroke="#b3123a" stroke-width="1"/>
<line x1="261.1" y1="105.2" x2="264.3" y2="105.2" stroke="#b3123a" stroke-width="1"/>
<circle cx="140" cy="136" r="1.9" fill="#fff" stroke="#60ad36" stroke-width="0.8"/>
<path d="M140,133.7 A2.3,2.3 0 0 0 140,138.3 Z" fill="#60ad36"/>
<circle cx="155" cy="136" r="1.9" fill="#fff" stroke="#60ad36" stroke-width="0.8"/>
<path d="M155,133.7 A2.3,2.3 0 0 0 155,138.3 Z" fill="#60ad36"/>
<circle cx="170.5" cy="136" r="1.9" fill="#fff" stroke="#60ad36" stroke-width="0.8"/>
<path d="M170.5,133.7 A2.3,2.3 0 0 0 170.5,138.3 Z" fill="#60ad36"/>
<circle cx="210" cy="124.5" r="1.9" fill="#fff" stroke="#60ad36" stroke-width="0.8"/>
<path d="M210,122.2 A2.3,2.3 0 0 0 210,126.8 Z" fill="#60ad36"/>
<circle cx="225.5" cy="108.75" r="1.9" fill="#fff" stroke="#60ad36" stroke-width="0.8"/>
<path d="M225.5,106.45 A2.3,2.3 0 0 0 225.5,111.05 Z" fill="#60ad36"/>
<circle cx="234.25" cy="99.5" r="1.9" fill="#fff" stroke="#60ad36" stroke-width="0.8"/>
<path d="M234.25,97.2 A2.3,2.3 0 0 0 234.25,101.8 Z" fill="#60ad36"/>
<circle cx="243" cy="55" r="1.9" fill="#fff" stroke="#60ad36" stroke-width="0.8"/>
<path d="M243,52.7 A2.3,2.3 0 0 0 243,57.3 Z" fill="#60ad36"/>
<line x1="225.5" y1="106" x2="225.5" y2="111.5" stroke="#60ad36" stroke-width="1"/>
<line x1="223.9" y1="106" x2="227.1" y2="106" stroke="#60ad36" stroke-width="1"/>
<line x1="223.9" y1="111.5" x2="227.1" y2="111.5" stroke="#60ad36" stroke-width="1"/>
<line x1="234.25" y1="93.75" x2="234.25" y2="105" stroke="#60ad36" stroke-width="1"/>
<line x1="232.65" y1="93.75" x2="235.85" y2="93.75" stroke="#60ad36" stroke-width="1"/>
<line x1="232.65" y1="105" x2="235.85" y2="105" stroke="#60ad36" stroke-width="1"/>
<line x1="243" y1="34.5" x2="243" y2="75" stroke="#60ad36" stroke-width="1"/>
<line x1="241.4" y1="34.5" x2="244.6" y2="34.5" stroke="#60ad36" stroke-width="1"/>
<line x1="241.4" y1="75" x2="244.6" y2="75" stroke="#60ad36" stroke-width="1"/>
<circle cx="222.6" cy="95.5" r="0.95" fill="#23468a" stroke="none" stroke-width="0.8"/>
<circle cx="225.5" cy="95.5" r="0.95" fill="#23468a" stroke="none" stroke-width="0.8"/>
<circle cx="228.4" cy="95.5" r="0.95" fill="#23468a" stroke="none" stroke-width="0.8"/>
<circle cx="222.6" cy="100.8" r="0.95" fill="#b3123a" stroke="none" stroke-width="0.8"/>
<circle cx="225.5" cy="100.8" r="0.95" fill="#b3123a" stroke="none" stroke-width="0.8"/>
<circle cx="228.4" cy="100.8" r="0.95" fill="#b3123a" stroke="none" stroke-width="0.8"/>
<circle cx="229.6" cy="75.2" r="0.95" fill="#23468a" stroke="none" stroke-width="0.8"/>
<circle cx="232.5" cy="75.2" r="0.95" fill="#23468a" stroke="none" stroke-width="0.8"/>
<circle cx="235.4" cy="75.2" r="0.95" fill="#23468a" stroke="none" stroke-width="0.8"/>
<circle cx="229.6" cy="81" r="0.95" fill="#b3123a" stroke="none" stroke-width="0.8"/>
<circle cx="232.5" cy="81" r="0.95" fill="#b3123a" stroke="none" stroke-width="0.8"/>
<circle cx="235.4" cy="81" r="0.95" fill="#b3123a" stroke="none" stroke-width="0.8"/>
<circle cx="241.55" cy="25.2" r="0.95" fill="#23468a" stroke="none" stroke-width="0.8"/>
<circle cx="244.45" cy="25.2" r="0.95" fill="#23468a" stroke="none" stroke-width="0.8"/>
<circle cx="241.55" cy="31" r="0.95" fill="#b3123a" stroke="none" stroke-width="0.8"/>
<circle cx="244.45" cy="31" r="0.95" fill="#b3123a" stroke="none" stroke-width="0.8"/>
<line x1="147" y1="28.75" x2="157.5" y2="28.75" stroke="#60ad36" stroke-width="1"/>
<circle cx="152.25" cy="28.75" r="2" fill="#fff" stroke="#60ad36" stroke-width="0.8"/>
<path d="M152.25,26.35 A2.4,2.4 0 0 0 152.25,31.15 Z" fill="#60ad36"/>
<text x="160.5" y="31.05" font-size="6.5" fill="#161616">Vehicle (n=6)</text>
<line x1="147" y1="38.75" x2="157.5" y2="38.75" stroke="#b3123a" stroke-width="1"/>
<rect x="150.25" y="36.75" width="4" height="4" fill="#fff" stroke="#b3123a" stroke-width="0.8"/>
<rect x="149.85" y="36.35" width="2.4" height="4.8" fill="#b3123a" stroke="none" stroke-width="0.6"/>
<text x="160.5" y="41.05" font-size="6.5" fill="#161616">VLS-101 2.5 mg/kg (n=6)</text>
<line x1="147" y1="48.75" x2="157.5" y2="48.75" stroke="#23468a" stroke-width="1"/>
<polygon points="152.25,46.59 154.25,50.19 150.25,50.19" fill="#fff" stroke="#23468a" stroke-width="0.7"/>
<polygon points="152.25,46.29 152.25,50.49 149.85,50.49" fill="#23468a"/>
<text x="160.5" y="51.05" font-size="6.5" fill="#161616">VLS-101 5 mg/kg (n=6)</text>
<line x1="193.8" y1="151.4" x2="193.8" y2="156.5" stroke="#111" stroke-width="1.15"/>
<polygon points="193.8,148.5 195.55,152.1 192.05,152.1" fill="#111"/>
<line x1="203.6" y1="151.4" x2="203.6" y2="156.5" stroke="#111" stroke-width="1.15"/>
<polygon points="203.6,148.5 205.35,152.1 201.85,152.1" fill="#111"/>
<line x1="213.5" y1="151.4" x2="213.5" y2="156.5" stroke="#111" stroke-width="1.15"/>
<polygon points="213.5,148.5 215.25,152.1 211.75,152.1" fill="#111"/>
<line x1="223.5" y1="151.4" x2="223.5" y2="156.5" stroke="#111" stroke-width="1.15"/>
<polygon points="223.5,148.5 225.25,152.1 221.75,152.1" fill="#111"/>
<line x1="233.5" y1="151.4" x2="233.5" y2="156.5" stroke="#111" stroke-width="1.15"/>
<polygon points="233.5,148.5 235.25,152.1 231.75,152.1" fill="#111"/>
<line x1="243.5" y1="151.4" x2="243.5" y2="156.5" stroke="#111" stroke-width="1.15"/>
<polygon points="243.5,148.5 245.25,152.1 241.75,152.1" fill="#111"/>
<text x="499" y="147.6" font-size="6.9" textLength="13.5" lengthAdjust="spacingAndGlyphs" fill="#161616">Days</text>
<text x="0" y="0" font-size="7.9" text-anchor="middle" textLength="70" lengthAdjust="spacingAndGlyphs" fill="#161616" transform="translate(322.6 78.55) rotate(-90)">% of survival (IP867/17)</text>
<polyline points="344.5,28.5 401.3,28.5 401.3,136.1" fill="none" stroke="#82c052" stroke-width="1.2" stroke-linejoin="miter"/>
<polyline points="344.5,27.4 450.3,27.4 450.3,136.1" fill="none" stroke="#c8416b" stroke-width="1.2" stroke-linejoin="miter"/>
<polyline points="344.5,26.3 476.3,26.3 476.3,62.6 490,62.6 490,60.6" fill="none" stroke="#44609f" stroke-width="1.2" stroke-linejoin="miter"/>
<circle cx="446.3" cy="37.5" r="1" fill="#c8416b" stroke="none" stroke-width="0.8"/>
<circle cx="471.3" cy="37.5" r="1" fill="#44609f" stroke="none" stroke-width="0.8"/>
<line x1="457.5" y1="85.5" x2="465" y2="85.5" stroke="#82c052" stroke-width="1.2"/>
<text x="468.8" y="87.9" font-size="6.55" fill="#161616">Vehicle (n=3)</text>
<line x1="457.5" y1="99.6" x2="465" y2="99.6" stroke="#c8416b" stroke-width="1.2"/>
<text x="468.8" y="98" font-size="6.6" fill="#161616">VLS-101</text>
<text x="468.8" y="106" font-size="6.6" fill="#161616">2.5 mg/kg (n=3)</text>
<line x1="457.5" y1="117.3" x2="465" y2="117.3" stroke="#44609f" stroke-width="1.2"/>
<text x="468.8" y="115.7" font-size="6.6" fill="#161616">VLS-101</text>
<text x="468.8" y="123.7" font-size="6.6" fill="#161616">5 mg/kg (n=3)</text>
<line x1="377.5" y1="152.1" x2="377.5" y2="156.3" stroke="#111" stroke-width="1.15"/>
<polygon points="377.5,149.2 379.25,152.8 375.75,152.8" fill="#111"/>
<line x1="381.8" y1="152.1" x2="381.8" y2="156.3" stroke="#111" stroke-width="1.15"/>
<polygon points="381.8,149.2 383.55,152.8 380.05,152.8" fill="#111"/>
<line x1="386.1" y1="152.1" x2="386.1" y2="156.3" stroke="#111" stroke-width="1.15"/>
<polygon points="386.1,149.2 387.85,152.8 384.35,152.8" fill="#111"/>
<line x1="390.5" y1="152.1" x2="390.5" y2="156.3" stroke="#111" stroke-width="1.15"/>
<polygon points="390.5,149.2 392.25,152.8 388.75,152.8" fill="#111"/>
<line x1="395" y1="152.1" x2="395" y2="156.3" stroke="#111" stroke-width="1.15"/>
<polygon points="395,149.2 396.75,152.8 393.25,152.8" fill="#111"/>
<line x1="399.3" y1="152.1" x2="399.3" y2="156.3" stroke="#111" stroke-width="1.15"/>
<polygon points="399.3,149.2 401.05,152.8 397.55,152.8" fill="#111"/>
<text x="11.4" y="187.4" font-size="12.6" font-weight="bold" textLength="7.9" lengthAdjust="spacingAndGlyphs" fill="#161616" style="stroke-width:0.35px">B</text>
<text x="50.2" y="318.2" font-size="6.7" text-anchor="middle" textLength="20.3" lengthAdjust="spacingAndGlyphs" fill="#161616">Vehicle</text>
<text x="69.5" y="318.2" font-size="6.9" text-anchor="middle" fill="#161616">2.5</text>
<text x="89" y="318.2" font-size="6.9" text-anchor="middle" fill="#161616">5</text>
<text x="70.2" y="327.5" font-size="6.7" text-anchor="middle" textLength="19.7" lengthAdjust="spacingAndGlyphs" fill="#161616">mg/kg</text>
<text x="90.4" y="327.5" font-size="6.7" text-anchor="middle" textLength="19.3" lengthAdjust="spacingAndGlyphs" fill="#161616">mg/kg</text>
<line x1="61.2" y1="332.4" x2="97" y2="332.4" stroke="#0d0d0d" stroke-width="1.1"/>
<text x="78.6" y="340.7" font-size="6.7" text-anchor="middle" textLength="23.4" lengthAdjust="spacingAndGlyphs" fill="#161616">VLS-101</text>
<text x="0" y="0" font-size="9.6" text-anchor="middle" textLength="105" lengthAdjust="spacingAndGlyphs" fill="#161616" transform="translate(17.6 250.7) rotate(-90)">RS1316 tumor mass volume (cm<tspan font-size="4.5" dy="-2.5">3</tspan><tspan dy="2.5">)</tspan></text>
<line x1="50.9" y1="220.5" x2="50.9" y2="261.9" stroke="#9dcc7f" stroke-width="1.3"/>
<line x1="47.9" y1="220.5" x2="53.9" y2="220.5" stroke="#9dcc7f" stroke-width="1.3"/>
<line x1="47.9" y1="261.9" x2="53.9" y2="261.9" stroke="#9dcc7f" stroke-width="1.3"/>
<circle cx="48" cy="215.1" r="2.1" fill="#60ad36" stroke="none" stroke-width="0.8"/>
<circle cx="53.9" cy="215.75" r="2.1" fill="#60ad36" stroke="none" stroke-width="0.8"/>
<circle cx="48" cy="224.9" r="2.1" fill="#60ad36" stroke="none" stroke-width="0.8"/>
<circle cx="53.9" cy="224.9" r="2.1" fill="#60ad36" stroke="none" stroke-width="0.8"/>
<circle cx="50.9" cy="239.75" r="2.1" fill="#60ad36" stroke="none" stroke-width="0.8"/>
<circle cx="53.6" cy="246.9" r="2.1" fill="#60ad36" stroke="none" stroke-width="0.8"/>
<circle cx="44.9" cy="252.25" r="2.1" fill="#60ad36" stroke="none" stroke-width="0.8"/>
<circle cx="48" cy="257.1" r="2.1" fill="#60ad36" stroke="none" stroke-width="0.8"/>
<circle cx="53.6" cy="258.75" r="2.1" fill="#60ad36" stroke="none" stroke-width="0.8"/>
<circle cx="50.9" cy="277.9" r="2.1" fill="#60ad36" stroke="none" stroke-width="0.8"/>
<line x1="44" y1="241.4" x2="57.4" y2="241.4" stroke="#0d0d0d" stroke-width="1.2"/>
<rect x="67.75" y="293.85" width="4.3" height="4.3" fill="#b3123a" stroke="none" stroke-width="0.6"/>
<path d="M64.2,307.3 L65.6,304.6 L74.4,304.6 L75.8,307.3 Z" fill="#b3123a"/>
<line x1="70" y1="302.6" x2="70" y2="304.6" stroke="#444" stroke-width="0.8"/>
<line x1="68.6" y1="302.6" x2="71.4" y2="302.6" stroke="#444" stroke-width="0.8"/>
<line x1="68.6" y1="304.6" x2="71.4" y2="304.6" stroke="#444" stroke-width="0.8"/>
<path d="M83.6,307.3 L85.2,305.0 L92.2,305.0 L93.8,307.3 Z" fill="#23468a"/>
<circle cx="65.5" cy="282.9" r="0.95" fill="#b3123a" stroke="none" stroke-width="0.8"/>
<circle cx="68.5" cy="282.9" r="0.95" fill="#b3123a" stroke="none" stroke-width="0.8"/>
<circle cx="71.5" cy="282.9" r="0.95" fill="#b3123a" stroke="none" stroke-width="0.8"/>
<circle cx="74.5" cy="282.9" r="0.95" fill="#b3123a" stroke="none" stroke-width="0.8"/>
<circle cx="84" cy="282.9" r="0.95" fill="#23468a" stroke="none" stroke-width="0.8"/>
<circle cx="87" cy="282.9" r="0.95" fill="#23468a" stroke="none" stroke-width="0.8"/>
<circle cx="90" cy="282.9" r="0.95" fill="#23468a" stroke="none" stroke-width="0.8"/>
<circle cx="93" cy="282.9" r="0.95" fill="#23468a" stroke="none" stroke-width="0.8"/>
<line x1="249.6" y1="304.6" x2="249.6" y2="309.4" stroke="#0d0d0d" stroke-width="0.9"/>
<line x1="258.6" y1="307" x2="287.5" y2="307" stroke="#0d0d0d" stroke-width="1.2"/>
<line x1="258.6" y1="304.6" x2="258.6" y2="309.4" stroke="#0d0d0d" stroke-width="0.9"/>
<line x1="267" y1="307" x2="267" y2="309.8" stroke="#0d0d0d" stroke-width="0.9"/>
<line x1="284.8" y1="307" x2="284.8" y2="309.8" stroke="#0d0d0d" stroke-width="0.9"/>
<text x="267" y="319.3" font-size="6.9" text-anchor="middle" fill="#161616">80</text>
<text x="285.5" y="319.3" font-size="6.9" text-anchor="middle" fill="#161616">120</text>
<text x="294.2" y="319.3" font-size="6.9" textLength="13.1" lengthAdjust="spacingAndGlyphs" fill="#161616">Days</text>
<text x="0" y="0" font-size="9.6" text-anchor="middle" textLength="105" lengthAdjust="spacingAndGlyphs" fill="#161616" transform="translate(119 250.7) rotate(-90)">RS1316 tumor mass volume (cm<tspan font-size="4.5" dy="-2.5">3</tspan><tspan dy="2.5">)</tspan></text>
<polygon points="140,304.84 142,308.44 138,308.44" fill="#fff" stroke="#23468a" stroke-width="0.7"/>
<polygon points="140,304.54 140,308.74 137.6,308.74" fill="#23468a"/>
<polygon points="155,304.84 157,308.44 153,308.44" fill="#fff" stroke="#23468a" stroke-width="0.7"/>
<polygon points="155,304.54 155,308.74 152.6,308.74" fill="#23468a"/>
<polygon points="170.5,304.84 172.5,308.44 168.5,308.44" fill="#fff" stroke="#23468a" stroke-width="0.7"/>
<polygon points="170.5,304.54 170.5,308.74 168.1,308.74" fill="#23468a"/>
<polygon points="185,304.84 187,308.44 183,308.44" fill="#fff" stroke="#23468a" stroke-width="0.7"/>
<polygon points="185,304.54 185,308.74 182.6,308.74" fill="#23468a"/>
<polygon points="201.3,304.84 203.3,308.44 199.3,308.44" fill="#fff" stroke="#23468a" stroke-width="0.7"/>
<polygon points="201.3,304.54 201.3,308.74 198.9,308.74" fill="#23468a"/>
<polygon points="210,304.84 212,308.44 208,308.44" fill="#fff" stroke="#23468a" stroke-width="0.7"/>
<polygon points="210,304.54 210,308.74 207.6,308.74" fill="#23468a"/>
<polygon points="227.5,304.84 229.5,308.44 225.5,308.44" fill="#fff" stroke="#23468a" stroke-width="0.7"/>
<polygon points="227.5,304.54 227.5,308.74 225.1,308.74" fill="#23468a"/>
<polygon points="240,303.84 242,307.44 238,307.44" fill="#fff" stroke="#23468a" stroke-width="0.7"/>
<polygon points="240,303.54 240,307.74 237.6,307.74" fill="#23468a"/>
<polygon points="246,304.84 248,308.44 244,308.44" fill="#fff" stroke="#23468a" stroke-width="0.7"/>
<polygon points="246,304.54 246,308.74 243.6,308.74" fill="#23468a"/>
<polygon points="258.6,304.84 260.6,308.44 256.6,308.44" fill="#fff" stroke="#23468a" stroke-width="0.7"/>
<polygon points="258.6,304.54 258.6,308.74 256.2,308.74" fill="#23468a"/>
<polygon points="265.9,305.14 267.9,308.74 263.9,308.74" fill="#fff" stroke="#23468a" stroke-width="0.7"/>
<polygon points="265.9,304.84 265.9,309.04 263.5,309.04" fill="#23468a"/>
<polygon points="277.1,300.84 279.1,304.44 275.1,304.44" fill="#fff" stroke="#23468a" stroke-width="0.7"/>
<polygon points="277.1,300.54 277.1,304.74 274.7,304.74" fill="#23468a"/>
<polygon points="284.6,288.24 286.6,291.84 282.6,291.84" fill="#fff" stroke="#23468a" stroke-width="0.7"/>
<polygon points="284.6,287.94 284.6,292.14 282.2,292.14" fill="#23468a"/>
<line x1="284.6" y1="280" x2="284.6" y2="297.9" stroke="#23468a" stroke-width="1"/>
<line x1="283" y1="280" x2="286.2" y2="280" stroke="#23468a" stroke-width="1"/>
<line x1="283" y1="297.9" x2="286.2" y2="297.9" stroke="#23468a" stroke-width="1"/>
<rect x="138.1" y="305.1" width="3.8" height="3.8" fill="#fff" stroke="#b3123a" stroke-width="0.8"/>
<rect x="137.7" y="304.7" width="2.3" height="4.6" fill="#b3123a" stroke="none" stroke-width="0.6"/>
<rect x="153.1" y="305.1" width="3.8" height="3.8" fill="#fff" stroke="#b3123a" stroke-width="0.8"/>
<rect x="152.7" y="304.7" width="2.3" height="4.6" fill="#b3123a" stroke="none" stroke-width="0.6"/>
<rect x="168.6" y="305.1" width="3.8" height="3.8" fill="#fff" stroke="#b3123a" stroke-width="0.8"/>
<rect x="168.2" y="304.7" width="2.3" height="4.6" fill="#b3123a" stroke="none" stroke-width="0.6"/>
<rect x="172.6" y="300.6" width="3.8" height="3.8" fill="#fff" stroke="#b3123a" stroke-width="0.8"/>
<rect x="172.2" y="300.2" width="2.3" height="4.6" fill="#b3123a" stroke="none" stroke-width="0.6"/>
<rect x="183.1" y="305.1" width="3.8" height="3.8" fill="#fff" stroke="#b3123a" stroke-width="0.8"/>
<rect x="182.7" y="304.7" width="2.3" height="4.6" fill="#b3123a" stroke="none" stroke-width="0.6"/>
<rect x="199.4" y="304.6" width="3.8" height="3.8" fill="#fff" stroke="#b3123a" stroke-width="0.8"/>
<rect x="199" y="304.2" width="2.3" height="4.6" fill="#b3123a" stroke="none" stroke-width="0.6"/>
<rect x="208.1" y="305.1" width="3.8" height="3.8" fill="#fff" stroke="#b3123a" stroke-width="0.8"/>
<rect x="207.7" y="304.7" width="2.3" height="4.6" fill="#b3123a" stroke="none" stroke-width="0.6"/>
<rect x="225.6" y="305.1" width="3.8" height="3.8" fill="#fff" stroke="#b3123a" stroke-width="0.8"/>
<rect x="225.2" y="304.7" width="2.3" height="4.6" fill="#b3123a" stroke="none" stroke-width="0.6"/>
<rect x="238.1" y="303.6" width="3.8" height="3.8" fill="#fff" stroke="#b3123a" stroke-width="0.8"/>
<rect x="237.7" y="303.2" width="2.3" height="4.6" fill="#b3123a" stroke="none" stroke-width="0.6"/>
<rect x="241.8" y="305.1" width="3.8" height="3.8" fill="#fff" stroke="#b3123a" stroke-width="0.8"/>
<rect x="241.4" y="304.7" width="2.3" height="4.6" fill="#b3123a" stroke="none" stroke-width="0.6"/>
<rect x="244.4" y="305.1" width="3.8" height="3.8" fill="#fff" stroke="#b3123a" stroke-width="0.8"/>
<rect x="244" y="304.7" width="2.3" height="4.6" fill="#b3123a" stroke="none" stroke-width="0.6"/>
<polyline points="246.3,307 249.5,307" fill="none" stroke="#b3123a" stroke-width="1" stroke-linejoin="miter"/>
<rect x="256.7" y="305.2" width="3.8" height="3.8" fill="#fff" stroke="#b3123a" stroke-width="0.8"/>
<rect x="256.3" y="304.8" width="2.3" height="4.6" fill="#b3123a" stroke="none" stroke-width="0.6"/>
<rect x="264.2" y="283.9" width="3.8" height="3.8" fill="#fff" stroke="#b3123a" stroke-width="0.8"/>
<rect x="263.8" y="283.5" width="2.3" height="4.6" fill="#b3123a" stroke="none" stroke-width="0.6"/>
<rect x="274.4" y="230.6" width="3.8" height="3.8" fill="#fff" stroke="#b3123a" stroke-width="0.8"/>
<rect x="274" y="230.2" width="2.3" height="4.6" fill="#b3123a" stroke="none" stroke-width="0.6"/>
<line x1="276.3" y1="213.8" x2="276.3" y2="251.3" stroke="#b3123a" stroke-width="1"/>
<line x1="274.7" y1="213.8" x2="277.9" y2="213.8" stroke="#b3123a" stroke-width="1"/>
<line x1="274.7" y1="251.3" x2="277.9" y2="251.3" stroke="#b3123a" stroke-width="1"/>
<circle cx="140" cy="307" r="1.9" fill="#fff" stroke="#60ad36" stroke-width="0.8"/>
<path d="M140,304.7 A2.3,2.3 0 0 0 140,309.3 Z" fill="#60ad36"/>
<circle cx="155" cy="307" r="1.9" fill="#fff" stroke="#60ad36" stroke-width="0.8"/>
<path d="M155,304.7 A2.3,2.3 0 0 0 155,309.3 Z" fill="#60ad36"/>
<circle cx="170.5" cy="307" r="1.9" fill="#fff" stroke="#60ad36" stroke-width="0.8"/>
<path d="M170.5,304.7 A2.3,2.3 0 0 0 170.5,309.3 Z" fill="#60ad36"/>
<circle cx="174.5" cy="302.8" r="1.9" fill="#fff" stroke="#60ad36" stroke-width="0.8"/>
<path d="M174.5,300.5 A2.3,2.3 0 0 0 174.5,305.1 Z" fill="#60ad36"/>
<circle cx="185" cy="307" r="1.9" fill="#fff" stroke="#60ad36" stroke-width="0.8"/>
<path d="M185,304.7 A2.3,2.3 0 0 0 185,309.3 Z" fill="#60ad36"/>
<circle cx="201.3" cy="306" r="1.9" fill="#fff" stroke="#60ad36" stroke-width="0.8"/>
<path d="M201.3,303.7 A2.3,2.3 0 0 0 201.3,308.3 Z" fill="#60ad36"/>
<circle cx="208" cy="302.5" r="1.9" fill="#fff" stroke="#60ad36" stroke-width="0.8"/>
<path d="M208,300.2 A2.3,2.3 0 0 0 208,304.8 Z" fill="#60ad36"/>
<circle cx="210" cy="281.3" r="1.9" fill="#fff" stroke="#60ad36" stroke-width="0.8"/>
<path d="M210,279 A2.3,2.3 0 0 0 210,283.6 Z" fill="#60ad36"/>
<circle cx="227.5" cy="269.5" r="1.9" fill="#fff" stroke="#60ad36" stroke-width="0.8"/>
<path d="M227.5,267.2 A2.3,2.3 0 0 0 227.5,271.8 Z" fill="#60ad36"/>
<circle cx="241.3" cy="268.8" r="1.9" fill="#fff" stroke="#60ad36" stroke-width="0.8"/>
<path d="M241.3,266.5 A2.3,2.3 0 0 0 241.3,271.1 Z" fill="#60ad36"/>
<circle cx="245.5" cy="218.8" r="1.9" fill="#fff" stroke="#60ad36" stroke-width="0.8"/>
<path d="M245.5,216.5 A2.3,2.3 0 0 0 245.5,221.1 Z" fill="#60ad36"/>
<line x1="208" y1="300.5" x2="208" y2="304.5" stroke="#60ad36" stroke-width="1"/>
<line x1="206.4" y1="300.5" x2="209.6" y2="300.5" stroke="#60ad36" stroke-width="1"/>
<line x1="206.4" y1="304.5" x2="209.6" y2="304.5" stroke="#60ad36" stroke-width="1"/>
<line x1="210" y1="278" x2="210" y2="284.5" stroke="#60ad36" stroke-width="1"/>
<line x1="208.4" y1="278" x2="211.6" y2="278" stroke="#60ad36" stroke-width="1"/>
<line x1="208.4" y1="284.5" x2="211.6" y2="284.5" stroke="#60ad36" stroke-width="1"/>
<line x1="227.5" y1="266.5" x2="227.5" y2="272.5" stroke="#60ad36" stroke-width="1"/>
<line x1="225.9" y1="266.5" x2="229.1" y2="266.5" stroke="#60ad36" stroke-width="1"/>
<line x1="225.9" y1="272.5" x2="229.1" y2="272.5" stroke="#60ad36" stroke-width="1"/>
<line x1="241.3" y1="266" x2="241.3" y2="271.5" stroke="#60ad36" stroke-width="1"/>
<line x1="239.7" y1="266" x2="242.9" y2="266" stroke="#60ad36" stroke-width="1"/>
<line x1="239.7" y1="271.5" x2="242.9" y2="271.5" stroke="#60ad36" stroke-width="1"/>
<line x1="245.5" y1="210" x2="245.5" y2="227.5" stroke="#60ad36" stroke-width="1"/>
<line x1="243.9" y1="210" x2="247.1" y2="210" stroke="#60ad36" stroke-width="1"/>
<line x1="243.9" y1="227.5" x2="247.1" y2="227.5" stroke="#60ad36" stroke-width="1"/>
<polyline points="139.6,306.8 170.5,306.8" fill="none" stroke="#60ad36" stroke-width="1" stroke-linejoin="miter"/>
<circle cx="207.1" cy="268" r="0.95" fill="#23468a" stroke="none" stroke-width="0.8"/>
<circle cx="210" cy="268" r="0.95" fill="#23468a" stroke="none" stroke-width="0.8"/>
<circle cx="212.9" cy="268" r="0.95" fill="#23468a" stroke="none" stroke-width="0.8"/>
<circle cx="207.1" cy="273.8" r="0.95" fill="#b3123a" stroke="none" stroke-width="0.8"/>
<circle cx="210" cy="273.8" r="0.95" fill="#b3123a" stroke="none" stroke-width="0.8"/>
<circle cx="212.9" cy="273.8" r="0.95" fill="#b3123a" stroke="none" stroke-width="0.8"/>
<circle cx="224.4" cy="255.5" r="0.95" fill="#23468a" stroke="none" stroke-width="0.8"/>
<circle cx="227.3" cy="255.5" r="0.95" fill="#23468a" stroke="none" stroke-width="0.8"/>
<circle cx="230.2" cy="255.5" r="0.95" fill="#23468a" stroke="none" stroke-width="0.8"/>
<circle cx="224.4" cy="261.3" r="0.95" fill="#b3123a" stroke="none" stroke-width="0.8"/>
<circle cx="227.3" cy="261.3" r="0.95" fill="#b3123a" stroke="none" stroke-width="0.8"/>
<circle cx="230.2" cy="261.3" r="0.95" fill="#b3123a" stroke="none" stroke-width="0.8"/>
<circle cx="242.1" cy="200.5" r="0.95" fill="#23468a" stroke="none" stroke-width="0.8"/>
<circle cx="245" cy="200.5" r="0.95" fill="#23468a" stroke="none" stroke-width="0.8"/>
<circle cx="247.9" cy="200.5" r="0.95" fill="#23468a" stroke="none" stroke-width="0.8"/>
<circle cx="242.1" cy="206.3" r="0.95" fill="#b3123a" stroke="none" stroke-width="0.8"/>
<circle cx="245" cy="206.3" r="0.95" fill="#b3123a" stroke="none" stroke-width="0.8"/>
<circle cx="247.9" cy="206.3" r="0.95" fill="#b3123a" stroke="none" stroke-width="0.8"/>
<line x1="145" y1="196.8" x2="155" y2="196.8" stroke="#60ad36" stroke-width="1"/>
<circle cx="150" cy="196.8" r="2" fill="#fff" stroke="#60ad36" stroke-width="0.8"/>
<path d="M150,194.4 A2.4,2.4 0 0 0 150,199.2 Z" fill="#60ad36"/>
<text x="158.3" y="199.1" font-size="6.5" fill="#161616">Vehicle (n=12)</text>
<line x1="145" y1="207" x2="155" y2="207" stroke="#b3123a" stroke-width="1"/>
<rect x="148" y="205" width="4" height="4" fill="#fff" stroke="#b3123a" stroke-width="0.8"/>
<rect x="147.6" y="204.6" width="2.4" height="4.8" fill="#b3123a" stroke="none" stroke-width="0.6"/>
<text x="158.3" y="209.3" font-size="6.5" fill="#161616">VLS-101 2.5 mg/kg (n=12)</text>
<line x1="145" y1="217" x2="155" y2="217" stroke="#23468a" stroke-width="1"/>
<polygon points="150,214.84 152,218.44 148,218.44" fill="#fff" stroke="#23468a" stroke-width="0.7"/>
<polygon points="150,214.54 150,218.74 147.6,218.74" fill="#23468a"/>
<text x="158.3" y="219.3" font-size="6.5" fill="#161616">VLS-101 5 mg/kg (n=12)</text>
<line x1="205.5" y1="324.8" x2="205.5" y2="330.3" stroke="#111" stroke-width="1.15"/>
<polygon points="205.5,321.9 207.25,325.5 203.75,325.5" fill="#111"/>
<line x1="213.7" y1="324.8" x2="213.7" y2="330.3" stroke="#111" stroke-width="1.15"/>
<polygon points="213.7,321.9 215.45,325.5 211.95,325.5" fill="#111"/>
<line x1="221.8" y1="324.8" x2="221.8" y2="330.3" stroke="#111" stroke-width="1.15"/>
<polygon points="221.8,321.9 223.55,325.5 220.05,325.5" fill="#111"/>
<line x1="229.6" y1="324.8" x2="229.6" y2="330.3" stroke="#111" stroke-width="1.15"/>
<polygon points="229.6,321.9 231.35,325.5 227.85,325.5" fill="#111"/>
<line x1="237.7" y1="324.8" x2="237.7" y2="330.3" stroke="#111" stroke-width="1.15"/>
<polygon points="237.7,321.9 239.45,325.5 235.95,325.5" fill="#111"/>
<line x1="245.8" y1="324.8" x2="245.8" y2="330.3" stroke="#111" stroke-width="1.15"/>
<polygon points="245.8,321.9 247.55,325.5 244.05,325.5" fill="#111"/>
<text x="499" y="319" font-size="6.9" textLength="13.5" lengthAdjust="spacingAndGlyphs" fill="#161616">Days</text>
<text x="0" y="0" font-size="7.9" text-anchor="middle" textLength="68" lengthAdjust="spacingAndGlyphs" fill="#161616" transform="translate(322.6 250.5) rotate(-90)">% of survival (RS1316)</text>
<polyline points="344.5,201.4 393.8,201.4 393.8,219.3 402.5,219.3 402.5,273.3 407.5,273.3 407.5,307" fill="none" stroke="#82c052" stroke-width="1.2" stroke-linejoin="miter"/>
<polyline points="344.5,200.6 468.3,200.6 468.3,307" fill="none" stroke="#c8416b" stroke-width="1.2" stroke-linejoin="miter"/>
<polyline points="344.5,199.3 490,199.3 490,197.3" fill="none" stroke="#44609f" stroke-width="1.2" stroke-linejoin="miter"/>
<line x1="423.8" y1="199.3" x2="423.8" y2="197.3" stroke="#44609f" stroke-width="0.9"/>
<circle cx="457.9" cy="207" r="0.95" fill="#c8416b" stroke="none" stroke-width="0.8"/>
<circle cx="460.8" cy="207" r="0.95" fill="#c8416b" stroke="none" stroke-width="0.8"/>
<circle cx="463.7" cy="207" r="0.95" fill="#c8416b" stroke="none" stroke-width="0.8"/>
<circle cx="479.6" cy="207" r="0.95" fill="#44609f" stroke="none" stroke-width="0.8"/>
<circle cx="482.5" cy="207" r="0.95" fill="#44609f" stroke="none" stroke-width="0.8"/>
<circle cx="485.4" cy="207" r="0.95" fill="#44609f" stroke="none" stroke-width="0.8"/>
<line x1="346.3" y1="264.5" x2="354.5" y2="264.5" stroke="#82c052" stroke-width="1.2"/>
<text x="357.5" y="266.9" font-size="6.55" fill="#161616">Vehicle (n=6)</text>
<line x1="346.3" y1="278.6" x2="354.5" y2="278.6" stroke="#c8416b" stroke-width="1.2"/>
<text x="357.5" y="277" font-size="6.6" fill="#161616">VLS-101</text>
<text x="357.5" y="285" font-size="6.6" fill="#161616">2.5 mg/kg (n=6)</text>
<line x1="346.3" y1="296.8" x2="354.5" y2="296.8" stroke="#44609f" stroke-width="1.2"/>
<text x="357.5" y="295.2" font-size="6.6" fill="#161616">VLS-101</text>
<text x="357.5" y="303.2" font-size="6.6" fill="#161616">5 mg/kg (n=6)</text>
<line x1="377.4" y1="325.4" x2="377.4" y2="330.2" stroke="#111" stroke-width="1.15"/>
<polygon points="377.4,322.5 379.15,326.1 375.65,326.1" fill="#111"/>
<line x1="382.3" y1="325.4" x2="382.3" y2="330.2" stroke="#111" stroke-width="1.15"/>
<polygon points="382.3,322.5 384.05,326.1 380.55,326.1" fill="#111"/>
<line x1="387.2" y1="325.4" x2="387.2" y2="330.2" stroke="#111" stroke-width="1.15"/>
<polygon points="387.2,322.5 388.95,326.1 385.45,326.1" fill="#111"/>
<line x1="392" y1="325.4" x2="392" y2="330.2" stroke="#111" stroke-width="1.15"/>
<polygon points="392,322.5 393.75,326.1 390.25,326.1" fill="#111"/>
<line x1="396.9" y1="325.4" x2="396.9" y2="330.2" stroke="#111" stroke-width="1.15"/>
<polygon points="396.9,322.5 398.65,326.1 395.15,326.1" fill="#111"/>
<line x1="401.8" y1="325.4" x2="401.8" y2="330.2" stroke="#111" stroke-width="1.15"/>
<polygon points="401.8,322.5 403.55,326.1 400.05,326.1" fill="#111"/>
<text x="11.1" y="358.5" font-size="12.6" font-weight="bold" textLength="7.9" lengthAdjust="spacingAndGlyphs" fill="#161616" style="stroke-width:0.35px">C</text>
<text x="50.2" y="493" font-size="6.7" text-anchor="middle" textLength="20.3" lengthAdjust="spacingAndGlyphs" fill="#161616">Vehicle</text>
<text x="69.5" y="493" font-size="6.9" text-anchor="middle" fill="#161616">2.5</text>
<text x="89" y="493" font-size="6.9" text-anchor="middle" fill="#161616">5</text>
<text x="68.5" y="502.4" font-size="6.7" text-anchor="middle" textLength="19.3" lengthAdjust="spacingAndGlyphs" fill="#161616">mg/kg</text>
<text x="91.9" y="502.4" font-size="6.7" text-anchor="middle" textLength="19.3" lengthAdjust="spacingAndGlyphs" fill="#161616">mg/kg</text>
<line x1="61.2" y1="507.2" x2="97" y2="507.2" stroke="#0d0d0d" stroke-width="1.1"/>
<text x="78.6" y="515.5" font-size="6.7" text-anchor="middle" textLength="23.4" lengthAdjust="spacingAndGlyphs" fill="#161616">VLS-101</text>
<text x="0" y="0" font-size="9.6" text-anchor="middle" textLength="105" lengthAdjust="spacingAndGlyphs" fill="#161616" transform="translate(17.6 425.5) rotate(-90)">RS1050 tumor mass volume (cm<tspan font-size="4.5" dy="-2.5">3</tspan><tspan dy="2.5">)</tspan></text>
<line x1="50.9" y1="408.3" x2="50.9" y2="460.5" stroke="#9dcc7f" stroke-width="1.3"/>
<line x1="48.3" y1="408.3" x2="53.5" y2="408.3" stroke="#9dcc7f" stroke-width="1.3"/>
<line x1="48.3" y1="460.5" x2="53.5" y2="460.5" stroke="#9dcc7f" stroke-width="1.3"/>
<circle cx="50.9" cy="384" r="2.1" fill="#60ad36" stroke="none" stroke-width="0.8"/>
<circle cx="50.9" cy="394.9" r="2.1" fill="#60ad36" stroke="none" stroke-width="0.8"/>
<circle cx="50.9" cy="406.75" r="2.1" fill="#60ad36" stroke="none" stroke-width="0.8"/>
<circle cx="53.6" cy="412" r="2.1" fill="#60ad36" stroke="none" stroke-width="0.8"/>
<circle cx="48" cy="416.5" r="2.1" fill="#60ad36" stroke="none" stroke-width="0.8"/>
<circle cx="54.25" cy="428.4" r="2.1" fill="#60ad36" stroke="none" stroke-width="0.8"/>
<circle cx="47.4" cy="431.5" r="2.1" fill="#60ad36" stroke="none" stroke-width="0.8"/>
<circle cx="50.9" cy="433.1" r="2.1" fill="#60ad36" stroke="none" stroke-width="0.8"/>
<circle cx="47.4" cy="438.75" r="2.1" fill="#60ad36" stroke="none" stroke-width="0.8"/>
<circle cx="54.25" cy="439.4" r="2.1" fill="#60ad36" stroke="none" stroke-width="0.8"/>
<circle cx="50.9" cy="444" r="2.1" fill="#60ad36" stroke="none" stroke-width="0.8"/>
<circle cx="54.25" cy="456.25" r="2.1" fill="#60ad36" stroke="none" stroke-width="0.8"/>
<circle cx="47.4" cy="458.5" r="2.1" fill="#60ad36" stroke="none" stroke-width="0.8"/>
<circle cx="50.9" cy="460.9" r="2.1" fill="#60ad36" stroke="none" stroke-width="0.8"/>
<circle cx="48" cy="467.5" r="2.1" fill="#60ad36" stroke="none" stroke-width="0.8"/>
<circle cx="53.6" cy="467.5" r="2.1" fill="#60ad36" stroke="none" stroke-width="0.8"/>
<line x1="44.3" y1="433.8" x2="57.6" y2="433.8" stroke="#555" stroke-width="1.2"/>
<path d="M64.4,482 Q64.8,479.5 70,479.5 Q75.2,479.5 75.6,482 Z" fill="#b3123a"/>
<path d="M84,482 Q84.5,479.6 89,479.6 Q93.5,479.6 94,482 Z" fill="#23468a"/>
<circle cx="65.4" cy="471.9" r="0.95" fill="#b3123a" stroke="none" stroke-width="0.8"/>
<circle cx="68.4" cy="471.9" r="0.95" fill="#b3123a" stroke="none" stroke-width="0.8"/>
<circle cx="71.4" cy="471.9" r="0.95" fill="#b3123a" stroke="none" stroke-width="0.8"/>
<circle cx="74.4" cy="471.9" r="0.95" fill="#b3123a" stroke="none" stroke-width="0.8"/>
<circle cx="84.75" cy="471.9" r="0.95" fill="#23468a" stroke="none" stroke-width="0.8"/>
<circle cx="87.85" cy="471.9" r="0.95" fill="#23468a" stroke="none" stroke-width="0.8"/>
<circle cx="90.95" cy="471.9" r="0.95" fill="#23468a" stroke="none" stroke-width="0.8"/>
<circle cx="94.05" cy="471.9" r="0.95" fill="#23468a" stroke="none" stroke-width="0.8"/>
<line x1="249.6" y1="479.4" x2="249.6" y2="484.2" stroke="#0d0d0d" stroke-width="0.9"/>
<line x1="258.4" y1="481.8" x2="288.3" y2="481.8" stroke="#0d0d0d" stroke-width="1.2"/>
<line x1="258.4" y1="479.4" x2="258.4" y2="484.2" stroke="#0d0d0d" stroke-width="0.9"/>
<line x1="285.6" y1="481.8" x2="285.6" y2="484.6" stroke="#0d0d0d" stroke-width="0.9"/>
<text x="258.4" y="494.1" font-size="6.9" text-anchor="middle" fill="#161616">80</text>
<text x="285.6" y="494.1" font-size="6.9" text-anchor="middle" fill="#161616">120</text>
<text x="294.4" y="494.1" font-size="6.9" textLength="13.1" lengthAdjust="spacingAndGlyphs" fill="#161616">Days</text>
<text x="0" y="0" font-size="9.6" text-anchor="middle" textLength="105" lengthAdjust="spacingAndGlyphs" fill="#161616" transform="translate(119 425.5) rotate(-90)">RS1050 tumor mass volume (cm<tspan font-size="4.5" dy="-2.5">3</tspan><tspan dy="2.5">)</tspan></text>
<polygon points="140,479.64 142,483.24 138,483.24" fill="#fff" stroke="#23468a" stroke-width="0.7"/>
<polygon points="140,479.34 140,483.54 137.6,483.54" fill="#23468a"/>
<polygon points="156.8,479.64 158.8,483.24 154.8,483.24" fill="#fff" stroke="#23468a" stroke-width="0.7"/>
<polygon points="156.8,479.34 156.8,483.54 154.4,483.54" fill="#23468a"/>
<polygon points="163,479.64 165,483.24 161,483.24" fill="#fff" stroke="#23468a" stroke-width="0.7"/>
<polygon points="163,479.34 163,483.54 160.6,483.54" fill="#23468a"/>
<polygon points="168,479.64 170,483.24 166,483.24" fill="#fff" stroke="#23468a" stroke-width="0.7"/>
<polygon points="168,479.34 168,483.54 165.6,483.54" fill="#23468a"/>
<polygon points="173.5,475.34 175.5,478.94 171.5,478.94" fill="#fff" stroke="#23468a" stroke-width="0.7"/>
<polygon points="173.5,475.04 173.5,479.24 171.1,479.24" fill="#23468a"/>
<polygon points="183.5,477.34 185.5,480.94 181.5,480.94" fill="#fff" stroke="#23468a" stroke-width="0.7"/>
<polygon points="183.5,477.04 183.5,481.24 181.1,481.24" fill="#23468a"/>
<polygon points="197,477.34 199,480.94 195,480.94" fill="#fff" stroke="#23468a" stroke-width="0.7"/>
<polygon points="197,477.04 197,481.24 194.6,481.24" fill="#23468a"/>
<polygon points="209.5,479.64 211.5,483.24 207.5,483.24" fill="#fff" stroke="#23468a" stroke-width="0.7"/>
<polygon points="209.5,479.34 209.5,483.54 207.1,483.54" fill="#23468a"/>
<polygon points="218,479.64 220,483.24 216,483.24" fill="#fff" stroke="#23468a" stroke-width="0.7"/>
<polygon points="218,479.34 218,483.54 215.6,483.54" fill="#23468a"/>
<polygon points="242.2,480.14 244.2,483.74 240.2,483.74" fill="#fff" stroke="#23468a" stroke-width="0.7"/>
<polygon points="242.2,479.84 242.2,484.04 239.8,484.04" fill="#23468a"/>
<polyline points="209.5,481.9 249.6,481.9" fill="none" stroke="#3b5486" stroke-width="1" stroke-linejoin="miter"/>
<polyline points="258.4,481.9 283,481.9" fill="none" stroke="#3b5486" stroke-width="1" stroke-linejoin="miter"/>
<polygon points="242.2,480.14 244.2,483.74 240.2,483.74" fill="#fff" stroke="#23468a" stroke-width="0.7"/>
<polygon points="242.2,479.84 242.2,484.04 239.8,484.04" fill="#23468a"/>
<polygon points="266,480.14 268,483.74 264,483.74" fill="#fff" stroke="#23468a" stroke-width="0.7"/>
<polygon points="266,479.84 266,484.04 263.6,484.04" fill="#23468a"/>
<polygon points="282.2,480.14 284.2,483.74 280.2,483.74" fill="#fff" stroke="#23468a" stroke-width="0.7"/>
<polygon points="282.2,479.84 282.2,484.04 279.8,484.04" fill="#23468a"/>
<rect x="138.1" y="479.9" width="3.8" height="3.8" fill="#fff" stroke="#b3123a" stroke-width="0.8"/>
<rect x="137.7" y="479.5" width="2.3" height="4.6" fill="#b3123a" stroke="none" stroke-width="0.6"/>
<rect x="154.9" y="479.9" width="3.8" height="3.8" fill="#fff" stroke="#b3123a" stroke-width="0.8"/>
<rect x="154.5" y="479.5" width="2.3" height="4.6" fill="#b3123a" stroke="none" stroke-width="0.6"/>
<rect x="161.1" y="479.9" width="3.8" height="3.8" fill="#fff" stroke="#b3123a" stroke-width="0.8"/>
<rect x="160.7" y="479.5" width="2.3" height="4.6" fill="#b3123a" stroke="none" stroke-width="0.6"/>
<rect x="166.1" y="479.9" width="3.8" height="3.8" fill="#fff" stroke="#b3123a" stroke-width="0.8"/>
<rect x="165.7" y="479.5" width="2.3" height="4.6" fill="#b3123a" stroke="none" stroke-width="0.6"/>
<rect x="171.9" y="476.6" width="3.8" height="3.8" fill="#fff" stroke="#b3123a" stroke-width="0.8"/>
<rect x="171.5" y="476.2" width="2.3" height="4.6" fill="#b3123a" stroke="none" stroke-width="0.6"/>
<rect x="180.6" y="476.1" width="3.8" height="3.8" fill="#fff" stroke="#b3123a" stroke-width="0.8"/>
<rect x="180.2" y="475.7" width="2.3" height="4.6" fill="#b3123a" stroke="none" stroke-width="0.6"/>
<rect x="195.1" y="475.6" width="3.8" height="3.8" fill="#fff" stroke="#b3123a" stroke-width="0.8"/>
<rect x="194.7" y="475.2" width="2.3" height="4.6" fill="#b3123a" stroke="none" stroke-width="0.6"/>
<rect x="207.6" y="479.9" width="3.8" height="3.8" fill="#fff" stroke="#b3123a" stroke-width="0.8"/>
<rect x="207.2" y="479.5" width="2.3" height="4.6" fill="#b3123a" stroke="none" stroke-width="0.6"/>
<rect x="216.1" y="479.6" width="3.8" height="3.8" fill="#fff" stroke="#b3123a" stroke-width="0.8"/>
<rect x="215.7" y="479.2" width="2.3" height="4.6" fill="#b3123a" stroke="none" stroke-width="0.6"/>
<polyline points="218,481.5 249.6,474.9" fill="none" stroke="#b3123a" stroke-width="1" stroke-linejoin="miter"/>
<line x1="282.2" y1="454.3" x2="282.2" y2="481.8" stroke="#b3123a" stroke-width="1"/>
<line x1="280.6" y1="454.3" x2="283.8" y2="454.3" stroke="#b3123a" stroke-width="1"/>
<line x1="280.6" y1="481.8" x2="283.8" y2="481.8" stroke="#b3123a" stroke-width="1"/>
<rect x="280.3" y="465.9" width="3.8" height="3.8" fill="#fff" stroke="#b3123a" stroke-width="0.8"/>
<rect x="279.9" y="465.5" width="2.3" height="4.6" fill="#b3123a" stroke="none" stroke-width="0.6"/>
<circle cx="140" cy="481.8" r="1.9" fill="#fff" stroke="#60ad36" stroke-width="0.8"/>
<path d="M140,479.5 A2.3,2.3 0 0 0 140,484.1 Z" fill="#60ad36"/>
<circle cx="156.8" cy="481.8" r="1.9" fill="#fff" stroke="#60ad36" stroke-width="0.8"/>
<path d="M156.8,479.5 A2.3,2.3 0 0 0 156.8,484.1 Z" fill="#60ad36"/>
<circle cx="163" cy="480.8" r="1.9" fill="#fff" stroke="#60ad36" stroke-width="0.8"/>
<path d="M163,478.5 A2.3,2.3 0 0 0 163,483.1 Z" fill="#60ad36"/>
<circle cx="168" cy="480.5" r="1.9" fill="#fff" stroke="#60ad36" stroke-width="0.8"/>
<path d="M168,478.2 A2.3,2.3 0 0 0 168,482.8 Z" fill="#60ad36"/>
<circle cx="173.8" cy="479.3" r="1.9" fill="#fff" stroke="#60ad36" stroke-width="0.8"/>
<path d="M173.8,477 A2.3,2.3 0 0 0 173.8,481.6 Z" fill="#60ad36"/>
<circle cx="183.8" cy="475.5" r="1.9" fill="#fff" stroke="#60ad36" stroke-width="0.8"/>
<path d="M183.8,473.2 A2.3,2.3 0 0 0 183.8,477.8 Z" fill="#60ad36"/>
<circle cx="197.5" cy="460" r="1.9" fill="#fff" stroke="#60ad36" stroke-width="0.8"/>
<path d="M197.5,457.7 A2.3,2.3 0 0 0 197.5,462.3 Z" fill="#60ad36"/>
<circle cx="209.3" cy="429.3" r="1.9" fill="#fff" stroke="#60ad36" stroke-width="0.8"/>
<path d="M209.3,427 A2.3,2.3 0 0 0 209.3,431.6 Z" fill="#60ad36"/>
<circle cx="217.5" cy="441.5" r="1.9" fill="#fff" stroke="#60ad36" stroke-width="0.8"/>
<path d="M217.5,439.2 A2.3,2.3 0 0 0 217.5,443.8 Z" fill="#60ad36"/>
<circle cx="219.5" cy="422.5" r="1.9" fill="#fff" stroke="#60ad36" stroke-width="0.8"/>
<path d="M219.5,420.2 A2.3,2.3 0 0 0 219.5,424.8 Z" fill="#60ad36"/>
<circle cx="243" cy="397" r="1.9" fill="#fff" stroke="#60ad36" stroke-width="0.8"/>
<path d="M243,394.7 A2.3,2.3 0 0 0 243,399.3 Z" fill="#60ad36"/>
<line x1="209.3" y1="421.3" x2="209.3" y2="437" stroke="#60ad36" stroke-width="1"/>
<line x1="207.7" y1="421.3" x2="210.9" y2="421.3" stroke="#60ad36" stroke-width="1"/>
<line x1="207.7" y1="437" x2="210.9" y2="437" stroke="#60ad36" stroke-width="1"/>
<line x1="217.5" y1="436" x2="217.5" y2="447" stroke="#60ad36" stroke-width="1"/>
<line x1="215.9" y1="436" x2="219.1" y2="436" stroke="#60ad36" stroke-width="1"/>
<line x1="215.9" y1="447" x2="219.1" y2="447" stroke="#60ad36" stroke-width="1"/>
<line x1="219.5" y1="403.8" x2="219.5" y2="441" stroke="#60ad36" stroke-width="1"/>
<line x1="217.9" y1="403.8" x2="221.1" y2="403.8" stroke="#60ad36" stroke-width="1"/>
<line x1="217.9" y1="441" x2="221.1" y2="441" stroke="#60ad36" stroke-width="1"/>
<line x1="243" y1="380.5" x2="243" y2="413.3" stroke="#60ad36" stroke-width="1"/>
<line x1="241.4" y1="380.5" x2="244.6" y2="380.5" stroke="#60ad36" stroke-width="1"/>
<line x1="241.4" y1="413.3" x2="244.6" y2="413.3" stroke="#60ad36" stroke-width="1"/>
<circle cx="193.4" cy="443.8" r="0.95" fill="#23468a" stroke="none" stroke-width="0.8"/>
<circle cx="196.3" cy="443.8" r="0.95" fill="#23468a" stroke="none" stroke-width="0.8"/>
<circle cx="199.2" cy="443.8" r="0.95" fill="#23468a" stroke="none" stroke-width="0.8"/>
<circle cx="193.4" cy="448.8" r="0.95" fill="#b3123a" stroke="none" stroke-width="0.8"/>
<circle cx="196.3" cy="448.8" r="0.95" fill="#b3123a" stroke="none" stroke-width="0.8"/>
<circle cx="199.2" cy="448.8" r="0.95" fill="#b3123a" stroke="none" stroke-width="0.8"/>
<circle cx="205.9" cy="412" r="0.95" fill="#23468a" stroke="none" stroke-width="0.8"/>
<circle cx="208.8" cy="412" r="0.95" fill="#23468a" stroke="none" stroke-width="0.8"/>
<circle cx="211.7" cy="412" r="0.95" fill="#23468a" stroke="none" stroke-width="0.8"/>
<circle cx="205.9" cy="417" r="0.95" fill="#b3123a" stroke="none" stroke-width="0.8"/>
<circle cx="208.8" cy="417" r="0.95" fill="#b3123a" stroke="none" stroke-width="0.8"/>
<circle cx="211.7" cy="417" r="0.95" fill="#b3123a" stroke="none" stroke-width="0.8"/>
<circle cx="215.9" cy="394.5" r="0.95" fill="#23468a" stroke="none" stroke-width="0.8"/>
<circle cx="218.8" cy="394.5" r="0.95" fill="#23468a" stroke="none" stroke-width="0.8"/>
<circle cx="221.7" cy="394.5" r="0.95" fill="#23468a" stroke="none" stroke-width="0.8"/>
<circle cx="215.9" cy="399.5" r="0.95" fill="#b3123a" stroke="none" stroke-width="0.8"/>
<circle cx="218.8" cy="399.5" r="0.95" fill="#b3123a" stroke="none" stroke-width="0.8"/>
<circle cx="221.7" cy="399.5" r="0.95" fill="#b3123a" stroke="none" stroke-width="0.8"/>
<circle cx="241.55" cy="371.3" r="0.95" fill="#23468a" stroke="none" stroke-width="0.8"/>
<circle cx="244.45" cy="371.3" r="0.95" fill="#23468a" stroke="none" stroke-width="0.8"/>
<circle cx="241.55" cy="376.8" r="0.95" fill="#b3123a" stroke="none" stroke-width="0.8"/>
<circle cx="244.45" cy="376.8" r="0.95" fill="#b3123a" stroke="none" stroke-width="0.8"/>
<line x1="142.5" y1="368.3" x2="152.5" y2="368.3" stroke="#60ad36" stroke-width="1"/>
<circle cx="147.5" cy="368.3" r="2" fill="#fff" stroke="#60ad36" stroke-width="0.8"/>
<path d="M147.5,365.9 A2.4,2.4 0 0 0 147.5,370.7 Z" fill="#60ad36"/>
<text x="156.3" y="370.6" font-size="6.5" fill="#161616">Vehicle (n=12)</text>
<line x1="142.5" y1="378.3" x2="152.5" y2="378.3" stroke="#b3123a" stroke-width="1"/>
<rect x="145.5" y="376.3" width="4" height="4" fill="#fff" stroke="#b3123a" stroke-width="0.8"/>
<rect x="145.1" y="375.9" width="2.4" height="4.8" fill="#b3123a" stroke="none" stroke-width="0.6"/>
<text x="156.3" y="380.6" font-size="6.5" fill="#161616">VLS-101 2.5 mg/kg (n=6)</text>
<line x1="142.5" y1="388" x2="152.5" y2="388" stroke="#23468a" stroke-width="1"/>
<polygon points="147.5,385.84 149.5,389.44 145.5,389.44" fill="#fff" stroke="#23468a" stroke-width="0.7"/>
<polygon points="147.5,385.54 147.5,389.74 145.1,389.74" fill="#23468a"/>
<text x="156.3" y="390.3" font-size="6.5" fill="#161616">VLS-101 5 mg/kg (n=12)</text>
<line x1="183.3" y1="500.2" x2="183.3" y2="504.8" stroke="#111" stroke-width="1.15"/>
<polygon points="183.3,497.3 185.05,500.9 181.55,500.9" fill="#111"/>
<line x1="190.5" y1="500.2" x2="190.5" y2="504.8" stroke="#111" stroke-width="1.15"/>
<polygon points="190.5,497.3 192.25,500.9 188.75,500.9" fill="#111"/>
<line x1="198" y1="500.2" x2="198" y2="504.8" stroke="#111" stroke-width="1.15"/>
<polygon points="198,497.3 199.75,500.9 196.25,500.9" fill="#111"/>
<line x1="205.5" y1="500.2" x2="205.5" y2="504.8" stroke="#111" stroke-width="1.15"/>
<polygon points="205.5,497.3 207.25,500.9 203.75,500.9" fill="#111"/>
<line x1="213" y1="500.2" x2="213" y2="504.8" stroke="#111" stroke-width="1.15"/>
<polygon points="213,497.3 214.75,500.9 211.25,500.9" fill="#111"/>
<line x1="220.5" y1="500.2" x2="220.5" y2="504.8" stroke="#111" stroke-width="1.15"/>
<polygon points="220.5,497.3 222.25,500.9 218.75,500.9" fill="#111"/>
<text x="499" y="493.8" font-size="6.9" textLength="13.5" lengthAdjust="spacingAndGlyphs" fill="#161616">Days</text>
<text x="0" y="0" font-size="7.9" text-anchor="middle" textLength="68.4" lengthAdjust="spacingAndGlyphs" fill="#161616" transform="translate(322.6 425.8) rotate(-90)">% of survival (RS1050)</text>
<polyline points="344.5,376.4 393.8,376.4 393.8,416.3 403,416.3 403,457 418.3,457 418.3,481.8" fill="none" stroke="#82c052" stroke-width="1.2" stroke-linejoin="miter"/>
<polyline points="344.5,375.4 490,375.4" fill="none" stroke="#c8416b" stroke-width="1.2" stroke-linejoin="miter"/>
<circle cx="490" cy="375.4" r="1.2" fill="#c8416b" stroke="none" stroke-width="0.8"/>
<polyline points="344.5,374.4 490,374.4 490,372.4" fill="none" stroke="#44609f" stroke-width="1.2" stroke-linejoin="miter"/>
<line x1="456.3" y1="374.4" x2="456.3" y2="372.4" stroke="#44609f" stroke-width="0.9"/>
<circle cx="459.35" cy="381.8" r="0.95" fill="#c8416b" stroke="none" stroke-width="0.8"/>
<circle cx="462.25" cy="381.8" r="0.95" fill="#c8416b" stroke="none" stroke-width="0.8"/>
<circle cx="479.6" cy="381.8" r="0.95" fill="#44609f" stroke="none" stroke-width="0.8"/>
<circle cx="482.5" cy="381.8" r="0.95" fill="#44609f" stroke="none" stroke-width="0.8"/>
<circle cx="485.4" cy="381.8" r="0.95" fill="#44609f" stroke="none" stroke-width="0.8"/>
<line x1="428.8" y1="439.3" x2="436.3" y2="439.3" stroke="#82c052" stroke-width="1.2"/>
<text x="440" y="441.7" font-size="6.55" fill="#161616">Vehicle (n=8)</text>
<line x1="428.8" y1="453.3" x2="436.3" y2="453.3" stroke="#c8416b" stroke-width="1.2"/>
<text x="440" y="451.7" font-size="6.6" fill="#161616">VLS-101</text>
<text x="440" y="459.7" font-size="6.6" fill="#161616">2.5 mg/kg (n=3)</text>
<line x1="428.8" y1="471.8" x2="436.3" y2="471.8" stroke="#44609f" stroke-width="1.2"/>
<text x="440" y="470.2" font-size="6.6" fill="#161616">VLS-101</text>
<text x="440" y="478.2" font-size="6.6" fill="#161616">5 mg/kg (n=8)</text>
<line x1="378.5" y1="499.6" x2="378.5" y2="503.8" stroke="#111" stroke-width="1.15"/>
<polygon points="378.5,496.7 380.25,500.3 376.75,500.3" fill="#111"/>
<line x1="381.8" y1="499.6" x2="381.8" y2="503.8" stroke="#111" stroke-width="1.15"/>
<polygon points="381.8,496.7 383.55,500.3 380.05,500.3" fill="#111"/>
<line x1="386.2" y1="499.6" x2="386.2" y2="503.8" stroke="#111" stroke-width="1.15"/>
<polygon points="386.2,496.7 387.95,500.3 384.45,500.3" fill="#111"/>
<line x1="391.2" y1="499.6" x2="391.2" y2="503.8" stroke="#111" stroke-width="1.15"/>
<polygon points="391.2,496.7 392.95,500.3 389.45,500.3" fill="#111"/>
<line x1="396.1" y1="499.6" x2="396.1" y2="503.8" stroke="#111" stroke-width="1.15"/>
<polygon points="396.1,496.7 397.85,500.3 394.35,500.3" fill="#111"/>
<line x1="400.8" y1="499.6" x2="400.8" y2="503.8" stroke="#111" stroke-width="1.15"/>
<polygon points="400.8,496.7 402.55,500.3 399.05,500.3" fill="#111"/>
<text x="11.2" y="533.3" font-size="12.6" font-weight="bold" fill="#161616" style="stroke-width:0.35px">D</text>
<text x="50.2" y="663.7" font-size="6.7" text-anchor="middle" textLength="20.3" lengthAdjust="spacingAndGlyphs" fill="#161616">Vehicle</text>
<text x="69.5" y="663.7" font-size="6.9" text-anchor="middle" fill="#161616">2.5</text>
<text x="89" y="663.7" font-size="6.9" text-anchor="middle" fill="#161616">5</text>
<text x="68.5" y="673.1" font-size="6.7" text-anchor="middle" textLength="19.3" lengthAdjust="spacingAndGlyphs" fill="#161616">mg/kg</text>
<text x="91.9" y="673.1" font-size="6.7" text-anchor="middle" textLength="19.3" lengthAdjust="spacingAndGlyphs" fill="#161616">mg/kg</text>
<line x1="61.2" y1="677.9" x2="97" y2="677.9" stroke="#0d0d0d" stroke-width="1.1"/>
<text x="78.6" y="686.2" font-size="6.7" text-anchor="middle" textLength="23.4" lengthAdjust="spacingAndGlyphs" fill="#161616">VLS-101</text>
<text x="0" y="0" font-size="9.6" text-anchor="middle" textLength="105" lengthAdjust="spacingAndGlyphs" fill="#161616" transform="translate(17.6 596.2) rotate(-90)">RS9737 tumor mass volume (cm<tspan font-size="4.5" dy="-2.5">3</tspan><tspan dy="2.5">)</tspan></text>
<line x1="50.9" y1="603.1" x2="50.9" y2="630" stroke="#9dcc7f" stroke-width="1.3"/>
<line x1="48.3" y1="603.1" x2="53.5" y2="603.1" stroke="#9dcc7f" stroke-width="1.3"/>
<line x1="48.3" y1="630" x2="53.5" y2="630" stroke="#9dcc7f" stroke-width="1.3"/>
<line x1="69.9" y1="554.8" x2="69.9" y2="616.5" stroke="#cf5a7e" stroke-width="1.5"/>
<line x1="66.9" y1="554.8" x2="72.9" y2="554.8" stroke="#cf5a7e" stroke-width="1.5"/>
<line x1="66.9" y1="616.5" x2="72.9" y2="616.5" stroke="#cf5a7e" stroke-width="1.5"/>
<line x1="89" y1="559.1" x2="89" y2="604.4" stroke="#5573b0" stroke-width="1.5"/>
<line x1="86" y1="559.1" x2="92" y2="559.1" stroke="#5573b0" stroke-width="1.5"/>
<line x1="86" y1="604.4" x2="92" y2="604.4" stroke="#5573b0" stroke-width="1.5"/>
<circle cx="54.25" cy="597.75" r="2.1" fill="#60ad36" stroke="none" stroke-width="0.8"/>
<circle cx="47.4" cy="600.6" r="2.1" fill="#60ad36" stroke="none" stroke-width="0.8"/>
<circle cx="50.5" cy="601.25" r="2.1" fill="#60ad36" stroke="none" stroke-width="0.8"/>
<circle cx="50.9" cy="611.6" r="2.1" fill="#60ad36" stroke="none" stroke-width="0.8"/>
<circle cx="48" cy="615.9" r="2.1" fill="#60ad36" stroke="none" stroke-width="0.8"/>
<circle cx="53.9" cy="620" r="2.1" fill="#60ad36" stroke="none" stroke-width="0.8"/>
<circle cx="53.9" cy="628.1" r="2.1" fill="#60ad36" stroke="none" stroke-width="0.8"/>
<circle cx="48" cy="633.1" r="2.1" fill="#60ad36" stroke="none" stroke-width="0.8"/>
<circle cx="50.5" cy="634" r="2.1" fill="#60ad36" stroke="none" stroke-width="0.8"/>
<circle cx="53" cy="633.4" r="2.1" fill="#60ad36" stroke="none" stroke-width="0.8"/>
<line x1="44.3" y1="617.8" x2="57.6" y2="617.8" stroke="#444" stroke-width="1.2"/>
<line x1="63.6" y1="585.4" x2="76.1" y2="585.4" stroke="#333" stroke-width="1"/>
<rect x="67.75" y="560.15" width="4.7" height="4.7" fill="#b3123a" stroke="none" stroke-width="0.6"/>
<rect x="70.65" y="562.4" width="4.7" height="4.7" fill="#b3123a" stroke="none" stroke-width="0.6"/>
<rect x="65.05" y="568.25" width="4.7" height="4.7" fill="#b3123a" stroke="none" stroke-width="0.6"/>
<rect x="64.75" y="582.25" width="4.7" height="4.7" fill="#b3123a" stroke="none" stroke-width="0.6"/>
<rect x="70.65" y="582.25" width="4.7" height="4.7" fill="#b3123a" stroke="none" stroke-width="0.6"/>
<rect x="67.55" y="643.25" width="4.7" height="4.7" fill="#b3123a" stroke="none" stroke-width="0.6"/>
<polygon points="89,548.52 91.3,552.66 86.7,552.66" fill="#23468a" stroke="none" stroke-width="0.8"/>
<polygon points="86.1,565.62 88.4,569.76 83.8,569.76" fill="#23468a" stroke="none" stroke-width="0.8"/>
<polygon points="92.4,568.77 94.7,572.91 90.1,572.91" fill="#23468a" stroke="none" stroke-width="0.8"/>
<polygon points="85.5,574.42 87.8,578.56 83.2,578.56" fill="#23468a" stroke="none" stroke-width="0.8"/>
<polygon points="89.25,577.27 91.55,581.41 86.95,581.41" fill="#23468a" stroke="none" stroke-width="0.8"/>
<polygon points="92.6,577.27 94.9,581.41 90.3,581.41" fill="#23468a" stroke="none" stroke-width="0.8"/>
<polygon points="89,607.12 91.3,611.26 86.7,611.26" fill="#23468a" stroke="none" stroke-width="0.8"/>
<polygon points="89,618.12 91.3,622.26 86.7,622.26" fill="#23468a" stroke="none" stroke-width="0.8"/>
<line x1="82.4" y1="581.6" x2="95.8" y2="581.6" stroke="#0d0d0d" stroke-width="1.1"/>
<text x="292.5" y="664.8" font-size="6.9" textLength="14.5" lengthAdjust="spacingAndGlyphs" fill="#161616">Days</text>
<text x="0" y="0" font-size="9.6" text-anchor="middle" textLength="105" lengthAdjust="spacingAndGlyphs" fill="#161616" transform="translate(119 596.2) rotate(-90)">RS9737 tumor mass volume (cm<tspan font-size="4.5" dy="-2.5">3</tspan><tspan dy="2.5">)</tspan></text>
<polygon points="140,650.34 142,653.94 138,653.94" fill="#fff" stroke="#23468a" stroke-width="0.7"/>
<polygon points="140,650.04 140,654.24 137.6,654.24" fill="#23468a"/>
<polygon points="183.3,649.14 185.3,652.74 181.3,652.74" fill="#fff" stroke="#23468a" stroke-width="0.7"/>
<polygon points="183.3,648.84 183.3,653.04 180.9,653.04" fill="#23468a"/>
<polygon points="217.5,648.84 219.5,652.44 215.5,652.44" fill="#fff" stroke="#23468a" stroke-width="0.7"/>
<polygon points="217.5,648.54 217.5,652.74 215.1,652.74" fill="#23468a"/>
<polygon points="275.8,566.64 277.8,570.24 273.8,570.24" fill="#fff" stroke="#23468a" stroke-width="0.7"/>
<polygon points="275.8,566.34 275.8,570.54 273.4,570.54" fill="#23468a"/>
<line x1="275.8" y1="548" x2="275.8" y2="588.8" stroke="#23468a" stroke-width="1"/>
<line x1="274.2" y1="548" x2="277.4" y2="548" stroke="#23468a" stroke-width="1"/>
<line x1="274.2" y1="588.8" x2="277.4" y2="588.8" stroke="#23468a" stroke-width="1"/>
<rect x="138.1" y="650.6" width="3.8" height="3.8" fill="#fff" stroke="#b3123a" stroke-width="0.8"/>
<rect x="137.7" y="650.2" width="2.3" height="4.6" fill="#b3123a" stroke="none" stroke-width="0.6"/>
<rect x="181.4" y="648.4" width="3.8" height="3.8" fill="#fff" stroke="#b3123a" stroke-width="0.8"/>
<rect x="181" y="648" width="2.3" height="4.6" fill="#b3123a" stroke="none" stroke-width="0.6"/>
<rect x="215.6" y="648.6" width="3.8" height="3.8" fill="#fff" stroke="#b3123a" stroke-width="0.8"/>
<rect x="215.2" y="648.2" width="2.3" height="4.6" fill="#b3123a" stroke="none" stroke-width="0.6"/>
<rect x="273.9" y="578.6" width="3.8" height="3.8" fill="#fff" stroke="#b3123a" stroke-width="0.8"/>
<rect x="273.5" y="578.2" width="2.3" height="4.6" fill="#b3123a" stroke="none" stroke-width="0.6"/>
<line x1="275.8" y1="558.8" x2="275.8" y2="602.5" stroke="#b3123a" stroke-width="1"/>
<line x1="274.2" y1="558.8" x2="277.4" y2="558.8" stroke="#b3123a" stroke-width="1"/>
<line x1="274.2" y1="602.5" x2="277.4" y2="602.5" stroke="#b3123a" stroke-width="1"/>
<circle cx="140" cy="652.5" r="1.9" fill="#fff" stroke="#60ad36" stroke-width="0.8"/>
<path d="M140,650.2 A2.3,2.3 0 0 0 140,654.8 Z" fill="#60ad36"/>
<circle cx="183.3" cy="648.8" r="1.9" fill="#fff" stroke="#60ad36" stroke-width="0.8"/>
<path d="M183.3,646.5 A2.3,2.3 0 0 0 183.3,651.1 Z" fill="#60ad36"/>
<circle cx="217.5" cy="650" r="1.9" fill="#fff" stroke="#60ad36" stroke-width="0.8"/>
<path d="M217.5,647.7 A2.3,2.3 0 0 0 217.5,652.3 Z" fill="#60ad36"/>
<circle cx="275.8" cy="593.3" r="1.9" fill="#fff" stroke="#60ad36" stroke-width="0.8"/>
<path d="M275.8,591 A2.3,2.3 0 0 0 275.8,595.6 Z" fill="#60ad36"/>
<line x1="275.8" y1="584.5" x2="275.8" y2="602" stroke="#60ad36" stroke-width="1"/>
<line x1="274.2" y1="584.5" x2="277.4" y2="584.5" stroke="#60ad36" stroke-width="1"/>
<line x1="274.2" y1="602" x2="277.4" y2="602" stroke="#60ad36" stroke-width="1"/>
<line x1="142.5" y1="548.8" x2="152.5" y2="548.8" stroke="#60ad36" stroke-width="1"/>
<circle cx="147.5" cy="548.8" r="2" fill="#fff" stroke="#60ad36" stroke-width="0.8"/>
<path d="M147.5,546.4 A2.4,2.4 0 0 0 147.5,551.2 Z" fill="#60ad36"/>
<text x="155.5" y="551.1" font-size="6.5" fill="#161616">Vehicle (n=14)</text>
<line x1="142.5" y1="559.3" x2="152.5" y2="559.3" stroke="#b3123a" stroke-width="1"/>
<rect x="145.5" y="557.3" width="4" height="4" fill="#fff" stroke="#b3123a" stroke-width="0.8"/>
<rect x="145.1" y="556.9" width="2.4" height="4.8" fill="#b3123a" stroke="none" stroke-width="0.6"/>
<text x="155.5" y="561.6" font-size="6.5" fill="#161616">VLS-101 2.5 mg/kg (n=12)</text>
<line x1="142.5" y1="568.8" x2="152.5" y2="568.8" stroke="#23468a" stroke-width="1"/>
<polygon points="147.5,566.64 149.5,570.24 145.5,570.24" fill="#fff" stroke="#23468a" stroke-width="0.7"/>
<polygon points="147.5,566.34 147.5,570.54 145.1,570.54" fill="#23468a"/>
<text x="155.5" y="571.1" font-size="6.5" fill="#161616">VLS-101 5 mg/kg (n=14)</text>
<line x1="189.3" y1="670.1" x2="189.3" y2="675" stroke="#111" stroke-width="1.15"/>
<polygon points="189.3,667.2 191.05,670.8 187.55,670.8" fill="#111"/>
<line x1="205.5" y1="670.1" x2="205.5" y2="675" stroke="#111" stroke-width="1.15"/>
<polygon points="205.5,667.2 207.25,670.8 203.75,670.8" fill="#111"/>
<line x1="222" y1="670.1" x2="222" y2="675" stroke="#111" stroke-width="1.15"/>
<polygon points="222,667.2 223.75,670.8 220.25,670.8" fill="#111"/>
<line x1="238.3" y1="670.1" x2="238.3" y2="675" stroke="#111" stroke-width="1.15"/>
<polygon points="238.3,667.2 240.05,670.8 236.55,670.8" fill="#111"/>
<line x1="255" y1="670.1" x2="255" y2="675" stroke="#111" stroke-width="1.15"/>
<polygon points="255,667.2 256.75,670.8 253.25,670.8" fill="#111"/>
<line x1="271.3" y1="670.1" x2="271.3" y2="675" stroke="#111" stroke-width="1.15"/>
<polygon points="271.3,667.2 273.05,670.8 269.55,670.8" fill="#111"/>
<text x="499" y="664.5" font-size="6.9" textLength="13.5" lengthAdjust="spacingAndGlyphs" fill="#161616">Days</text>
<text x="0" y="0" font-size="7.9" text-anchor="middle" textLength="69" lengthAdjust="spacingAndGlyphs" fill="#161616" transform="translate(322.6 596.1) rotate(-90)">% of survival (RS9737)</text>
<polyline points="344.5,543.4 465.8,543.4 465.8,570.6 470.8,570.6 470.8,611.4 485.2,611.4 485.2,652.5" fill="none" stroke="#44609f" stroke-width="1.2" stroke-linejoin="miter"/>
<polyline points="344.5,544.4 470.8,544.4 470.8,598.9 485.2,598.9 485.2,652.5" fill="none" stroke="#c8416b" stroke-width="1.2" stroke-linejoin="miter"/>
<polyline points="344.5,545.4 465.8,545.4 465.8,572.4 470.8,572.4 470.8,613.2 475.7,613.2 475.7,652.5" fill="none" stroke="#82c052" stroke-width="1.2" stroke-linejoin="miter"/>
<line x1="346.3" y1="625.8" x2="354.5" y2="625.8" stroke="#82c052" stroke-width="1.2"/>
<text x="357.5" y="628.2" font-size="6.55" fill="#161616">Vehicle (n=8)</text>
<line x1="346.3" y1="636.3" x2="354.5" y2="636.3" stroke="#c8416b" stroke-width="1.2"/>
<text x="357.5" y="638.7" font-size="6.55" fill="#161616">VLS-101 2.5 mg/kg (n=6)</text>
<line x1="346.3" y1="646.3" x2="354.5" y2="646.3" stroke="#44609f" stroke-width="1.2"/>
<text x="357.5" y="648.7" font-size="6.55" fill="#161616">VLS-101 5 mg/kg (n=8)</text>
<line x1="393" y1="669.6" x2="393" y2="675" stroke="#111" stroke-width="1.15"/>
<polygon points="393,666.7 394.75,670.3 391.25,670.3" fill="#111"/>
<line x1="409.5" y1="669.6" x2="409.5" y2="675" stroke="#111" stroke-width="1.15"/>
<polygon points="409.5,666.7 411.25,670.3 407.75,670.3" fill="#111"/>
<line x1="425.8" y1="669.6" x2="425.8" y2="675" stroke="#111" stroke-width="1.15"/>
<polygon points="425.8,666.7 427.55,670.3 424.05,670.3" fill="#111"/>
<line x1="442" y1="669.6" x2="442" y2="675" stroke="#111" stroke-width="1.15"/>
<polygon points="442,666.7 443.75,670.3 440.25,670.3" fill="#111"/>
<line x1="459.3" y1="669.6" x2="459.3" y2="675" stroke="#111" stroke-width="1.15"/>
<polygon points="459.3,666.7 461.05,670.3 457.55,670.3" fill="#111"/>
<line x1="475.8" y1="669.6" x2="475.8" y2="675" stroke="#111" stroke-width="1.15"/>
<polygon points="475.8,666.7 477.55,670.3 474.05,670.3" fill="#111"/>
<rect x="0.5" y="0.5" width="519" height="694" fill="none" stroke="#111" stroke-width="1"/>
</svg>
</body></html>
